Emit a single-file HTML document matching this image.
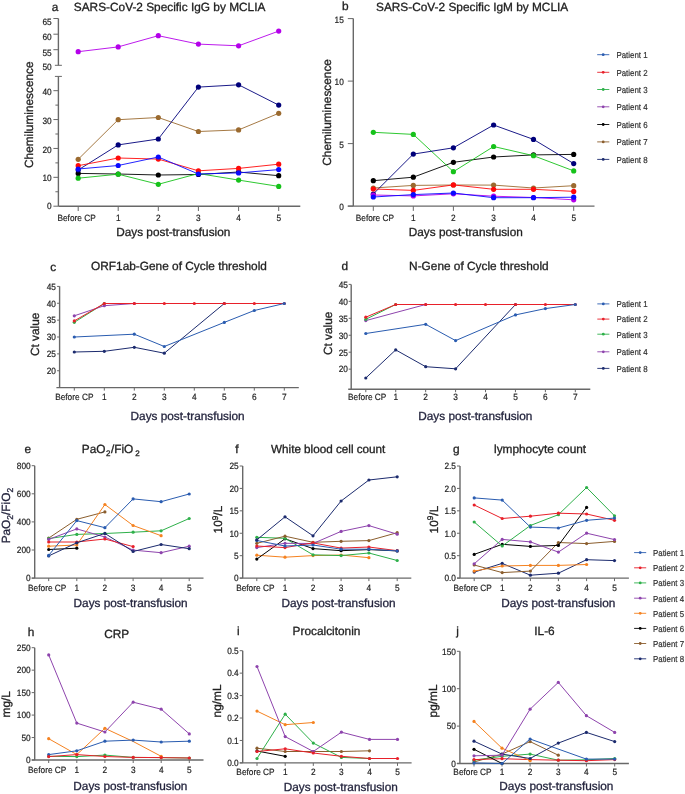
<!DOCTYPE html>
<html><head><meta charset="utf-8"><style>
html,body{margin:0;padding:0;background:#fff;width:685px;height:794px;overflow:hidden}
svg{display:block;will-change:transform;filter:blur(0.3px)}
text{font-family:"Liberation Sans",sans-serif;text-rendering:geometricPrecision}
</style></head><body>
<svg width="685" height="794" viewBox="0 0 685 794">
<rect width="685" height="794" fill="#fff"/>
<line x1="58.4" y1="18.5" x2="58.4" y2="65.3" stroke="#686868" stroke-width="1.4"/>
<line x1="53.4" y1="18.5" x2="58.4" y2="18.5" stroke="#686868" stroke-width="1"/>
<text x="0" y="0" font-size="8.3" text-anchor="end" fill="#222" stroke="#222" stroke-width="0.18" transform="translate(51.7 25.299999999999997) scale(1 1.1)">65</text>
<line x1="53.4" y1="34.2" x2="58.4" y2="34.2" stroke="#686868" stroke-width="1"/>
<text x="0" y="0" font-size="8.3" text-anchor="end" fill="#222" stroke="#222" stroke-width="0.18" transform="translate(51.7 40.199999999999996) scale(1 1.1)">60</text>
<line x1="53.4" y1="49.7" x2="58.4" y2="49.7" stroke="#686868" stroke-width="1"/>
<text x="0" y="0" font-size="8.3" text-anchor="end" fill="#222" stroke="#222" stroke-width="0.18" transform="translate(51.7 55.8) scale(1 1.1)">55</text>
<line x1="54.9" y1="65.3" x2="61.9" y2="65.3" stroke="#686868" stroke-width="1"/>
<text x="0" y="0" font-size="8.3" text-anchor="end" fill="#222" stroke="#222" stroke-width="0.18" transform="translate(51.7 70.2) scale(1 1.1)">50</text>
<line x1="58.4" y1="76.4" x2="58.4" y2="206.2" stroke="#686868" stroke-width="1.4"/>
<line x1="54.9" y1="76.4" x2="61.9" y2="76.4" stroke="#686868" stroke-width="1"/>
<line x1="53.4" y1="206.2" x2="58.4" y2="206.2" stroke="#686868" stroke-width="1"/>
<text x="0" y="0" font-size="8.3" text-anchor="end" fill="#222" stroke="#222" stroke-width="0.18" transform="translate(51.7 209.20000000000002) scale(1 1.1)">0</text>
<line x1="53.4" y1="177.32" x2="58.4" y2="177.32" stroke="#686868" stroke-width="1"/>
<text x="0" y="0" font-size="8.3" text-anchor="end" fill="#222" stroke="#222" stroke-width="0.18" transform="translate(51.7 181.1) scale(1 1.1)">10</text>
<line x1="53.4" y1="148.44" x2="58.4" y2="148.44" stroke="#686868" stroke-width="1"/>
<text x="0" y="0" font-size="8.3" text-anchor="end" fill="#222" stroke="#222" stroke-width="0.18" transform="translate(51.7 152.70000000000002) scale(1 1.1)">20</text>
<line x1="53.4" y1="119.55999999999999" x2="58.4" y2="119.55999999999999" stroke="#686868" stroke-width="1"/>
<text x="0" y="0" font-size="8.3" text-anchor="end" fill="#222" stroke="#222" stroke-width="0.18" transform="translate(51.7 124.2) scale(1 1.1)">30</text>
<line x1="53.4" y1="90.67999999999999" x2="58.4" y2="90.67999999999999" stroke="#686868" stroke-width="1"/>
<text x="0" y="0" font-size="8.3" text-anchor="end" fill="#222" stroke="#222" stroke-width="0.18" transform="translate(51.7 95.4) scale(1 1.1)">40</text>
<line x1="55.4" y1="191.76" x2="58.4" y2="191.76" stroke="#686868" stroke-width="1"/>
<line x1="55.4" y1="162.88" x2="58.4" y2="162.88" stroke="#686868" stroke-width="1"/>
<line x1="55.4" y1="134.0" x2="58.4" y2="134.0" stroke="#686868" stroke-width="1"/>
<line x1="55.4" y1="105.11999999999999" x2="58.4" y2="105.11999999999999" stroke="#686868" stroke-width="1"/>
<line x1="58.4" y1="206.2" x2="300.3" y2="206.2" stroke="#686868" stroke-width="1.4"/>
<line x1="78.2" y1="206.2" x2="78.2" y2="211.0" stroke="#686868" stroke-width="1"/>
<text x="0" y="0" font-size="8.3" text-anchor="middle" fill="#222" stroke="#222" stroke-width="0.18" transform="translate(76.60000000000001 220.9) scale(1 1.1)">Before CP</text>
<line x1="118.2" y1="206.2" x2="118.2" y2="211.0" stroke="#686868" stroke-width="1"/>
<text x="0" y="0" font-size="8.3" text-anchor="middle" fill="#222" stroke="#222" stroke-width="0.18" transform="translate(118.2 220.9) scale(1 1.1)">1</text>
<line x1="158.3" y1="206.2" x2="158.3" y2="211.0" stroke="#686868" stroke-width="1"/>
<text x="0" y="0" font-size="8.3" text-anchor="middle" fill="#222" stroke="#222" stroke-width="0.18" transform="translate(158.3 220.9) scale(1 1.1)">2</text>
<line x1="198.4" y1="206.2" x2="198.4" y2="211.0" stroke="#686868" stroke-width="1"/>
<text x="0" y="0" font-size="8.3" text-anchor="middle" fill="#222" stroke="#222" stroke-width="0.18" transform="translate(198.4 220.9) scale(1 1.1)">3</text>
<line x1="238.6" y1="206.2" x2="238.6" y2="211.0" stroke="#686868" stroke-width="1"/>
<text x="0" y="0" font-size="8.3" text-anchor="middle" fill="#222" stroke="#222" stroke-width="0.18" transform="translate(238.6 220.9) scale(1 1.1)">4</text>
<line x1="278.7" y1="206.2" x2="278.7" y2="211.0" stroke="#686868" stroke-width="1"/>
<text x="0" y="0" font-size="8.3" text-anchor="middle" fill="#222" stroke="#222" stroke-width="0.18" transform="translate(278.7 220.9) scale(1 1.1)">5</text>
<text x="55" y="10.5" font-size="11.85" text-anchor="middle" fill="#222" stroke="#222" stroke-width="0.3">a</text>
<text x="73.8" y="11.4" font-size="11.85" text-anchor="start" fill="#222" stroke="#222" stroke-width="0.3">SARS-CoV-2 Specific IgG by MCLIA</text>
<text x="0" y="0" font-size="11.85" text-anchor="middle" fill="#222" stroke="#222" stroke-width="0.3" transform="translate(33.4 114.7) rotate(-90) scale(1 1.0)">Chemiluminescence</text>
<text x="173.25" y="236.2" font-size="11.8" text-anchor="middle" fill="#222" stroke="#222" stroke-width="0.3">Days post-transfusion</text>
<polyline points="78.2,51.7 118.2,46.9 158.3,35.7 198.4,44.1 238.6,45.8 278.7,31.1" fill="none" stroke="#b400ea" stroke-width="0.9" stroke-linejoin="round"/>
<circle cx="78.2" cy="51.7" r="2.6" fill="#b400ea"/>
<circle cx="118.2" cy="46.9" r="2.6" fill="#b400ea"/>
<circle cx="158.3" cy="35.7" r="2.6" fill="#b400ea"/>
<circle cx="198.4" cy="44.1" r="2.6" fill="#b400ea"/>
<circle cx="238.6" cy="45.8" r="2.6" fill="#b400ea"/>
<circle cx="278.7" cy="31.1" r="2.6" fill="#b400ea"/>
<polyline points="78.2,173.4 118.2,174.0 158.3,175.0 198.4,174.5 238.6,172.0 278.7,175.7" fill="none" stroke="#000" stroke-width="0.9" stroke-linejoin="round"/>
<circle cx="78.2" cy="173.4" r="2.6" fill="#000"/>
<circle cx="118.2" cy="174.0" r="2.6" fill="#000"/>
<circle cx="158.3" cy="175.0" r="2.6" fill="#000"/>
<circle cx="198.4" cy="174.5" r="2.6" fill="#000"/>
<circle cx="238.6" cy="172.0" r="2.6" fill="#000"/>
<circle cx="278.7" cy="175.7" r="2.6" fill="#000"/>
<polyline points="78.2,178.2 118.2,174.2 158.3,184.3 198.4,173.5 238.6,180.1 278.7,186.4" fill="none" stroke="#16c21a" stroke-width="0.9" stroke-linejoin="round"/>
<circle cx="78.2" cy="178.2" r="2.6" fill="#16c21a"/>
<circle cx="118.2" cy="174.2" r="2.6" fill="#16c21a"/>
<circle cx="158.3" cy="184.3" r="2.6" fill="#16c21a"/>
<circle cx="198.4" cy="173.5" r="2.6" fill="#16c21a"/>
<circle cx="238.6" cy="180.1" r="2.6" fill="#16c21a"/>
<circle cx="278.7" cy="186.4" r="2.6" fill="#16c21a"/>
<polyline points="78.2,159.3 118.2,119.7 158.3,117.5 198.4,131.5 238.6,129.9 278.7,113.3" fill="none" stroke="#9b6a2f" stroke-width="0.9" stroke-linejoin="round"/>
<circle cx="78.2" cy="159.3" r="2.6" fill="#9b6a2f"/>
<circle cx="118.2" cy="119.7" r="2.6" fill="#9b6a2f"/>
<circle cx="158.3" cy="117.5" r="2.6" fill="#9b6a2f"/>
<circle cx="198.4" cy="131.5" r="2.6" fill="#9b6a2f"/>
<circle cx="238.6" cy="129.9" r="2.6" fill="#9b6a2f"/>
<circle cx="278.7" cy="113.3" r="2.6" fill="#9b6a2f"/>
<polyline points="78.2,170.0 118.2,144.9 158.3,139.0 198.4,87.1 238.6,84.8 278.7,105.1" fill="none" stroke="#00007a" stroke-width="0.9" stroke-linejoin="round"/>
<circle cx="78.2" cy="170.0" r="2.6" fill="#00007a"/>
<circle cx="118.2" cy="144.9" r="2.6" fill="#00007a"/>
<circle cx="158.3" cy="139.0" r="2.6" fill="#00007a"/>
<circle cx="198.4" cy="87.1" r="2.6" fill="#00007a"/>
<circle cx="238.6" cy="84.8" r="2.6" fill="#00007a"/>
<circle cx="278.7" cy="105.1" r="2.6" fill="#00007a"/>
<polyline points="78.2,165.7 118.2,158.0 158.3,159.1 198.4,170.8 238.6,168.4 278.7,164.2" fill="none" stroke="#ff0a0a" stroke-width="0.9" stroke-linejoin="round"/>
<circle cx="78.2" cy="165.7" r="2.6" fill="#ff0a0a"/>
<circle cx="118.2" cy="158.0" r="2.6" fill="#ff0a0a"/>
<circle cx="158.3" cy="159.1" r="2.6" fill="#ff0a0a"/>
<circle cx="198.4" cy="170.8" r="2.6" fill="#ff0a0a"/>
<circle cx="238.6" cy="168.4" r="2.6" fill="#ff0a0a"/>
<circle cx="278.7" cy="164.2" r="2.6" fill="#ff0a0a"/>
<polyline points="78.2,169.0 118.2,165.5 158.3,157.0 198.4,174.0 238.6,172.9 278.7,169.6" fill="none" stroke="#0a0aff" stroke-width="0.9" stroke-linejoin="round"/>
<circle cx="78.2" cy="169.0" r="2.6" fill="#0a0aff"/>
<circle cx="118.2" cy="165.5" r="2.6" fill="#0a0aff"/>
<circle cx="158.3" cy="157.0" r="2.6" fill="#0a0aff"/>
<circle cx="198.4" cy="174.0" r="2.6" fill="#0a0aff"/>
<circle cx="238.6" cy="172.9" r="2.6" fill="#0a0aff"/>
<circle cx="278.7" cy="169.6" r="2.6" fill="#0a0aff"/>
<line x1="353.3" y1="18.6" x2="353.3" y2="206.1" stroke="#686868" stroke-width="1.4"/>
<line x1="347.8" y1="206.1" x2="353.3" y2="206.1" stroke="#686868" stroke-width="1"/>
<text x="0" y="0" font-size="8.3" text-anchor="end" fill="#222" stroke="#222" stroke-width="0.18" transform="translate(343.8 210.1) scale(1 1.1)">0</text>
<line x1="347.8" y1="143.6" x2="353.3" y2="143.6" stroke="#686868" stroke-width="1"/>
<text x="0" y="0" font-size="8.3" text-anchor="end" fill="#222" stroke="#222" stroke-width="0.18" transform="translate(343.8 147.6) scale(1 1.1)">5</text>
<line x1="347.8" y1="81.1" x2="353.3" y2="81.1" stroke="#686868" stroke-width="1"/>
<text x="0" y="0" font-size="8.3" text-anchor="end" fill="#222" stroke="#222" stroke-width="0.18" transform="translate(343.8 85.1) scale(1 1.1)">10</text>
<line x1="347.8" y1="18.599999999999994" x2="353.3" y2="18.599999999999994" stroke="#686868" stroke-width="1"/>
<text x="0" y="0" font-size="8.3" text-anchor="end" fill="#222" stroke="#222" stroke-width="0.18" transform="translate(343.8 22.599999999999994) scale(1 1.1)">15</text>
<line x1="347.8" y1="206.1" x2="594.5" y2="206.1" stroke="#686868" stroke-width="1.4"/>
<line x1="373.3" y1="206.1" x2="373.3" y2="210.9" stroke="#686868" stroke-width="1"/>
<text x="0" y="0" font-size="8.3" text-anchor="middle" fill="#222" stroke="#222" stroke-width="0.18" transform="translate(374.90000000000003 220.9) scale(1 1.1)">Before CP</text>
<line x1="413.3" y1="206.1" x2="413.3" y2="210.9" stroke="#686868" stroke-width="1"/>
<text x="0" y="0" font-size="8.3" text-anchor="middle" fill="#222" stroke="#222" stroke-width="0.18" transform="translate(413.3 220.9) scale(1 1.1)">1</text>
<line x1="453.4" y1="206.1" x2="453.4" y2="210.9" stroke="#686868" stroke-width="1"/>
<text x="0" y="0" font-size="8.3" text-anchor="middle" fill="#222" stroke="#222" stroke-width="0.18" transform="translate(453.4 220.9) scale(1 1.1)">2</text>
<line x1="493.6" y1="206.1" x2="493.6" y2="210.9" stroke="#686868" stroke-width="1"/>
<text x="0" y="0" font-size="8.3" text-anchor="middle" fill="#222" stroke="#222" stroke-width="0.18" transform="translate(493.6 220.9) scale(1 1.1)">3</text>
<line x1="533.5" y1="206.1" x2="533.5" y2="210.9" stroke="#686868" stroke-width="1"/>
<text x="0" y="0" font-size="8.3" text-anchor="middle" fill="#222" stroke="#222" stroke-width="0.18" transform="translate(533.5 220.9) scale(1 1.1)">4</text>
<line x1="573.7" y1="206.1" x2="573.7" y2="210.9" stroke="#686868" stroke-width="1"/>
<text x="0" y="0" font-size="8.3" text-anchor="middle" fill="#222" stroke="#222" stroke-width="0.18" transform="translate(573.7 220.9) scale(1 1.1)">5</text>
<text x="345.3" y="9.5" font-size="11.85" text-anchor="middle" fill="#222" stroke="#222" stroke-width="0.3">b</text>
<text x="376.0" y="11.4" font-size="11.85" text-anchor="start" fill="#222" stroke="#222" stroke-width="0.3">SARS-CoV-2 Specific IgM by MCLIA</text>
<text x="0" y="0" font-size="11.85" text-anchor="middle" fill="#222" stroke="#222" stroke-width="0.3" transform="translate(330.8 112.4) rotate(-90) scale(1 1.0)">Chemiluminescence</text>
<text x="465.8" y="236.2" font-size="11.8" text-anchor="middle" fill="#222" stroke="#222" stroke-width="0.3">Days post-transfusion</text>
<polyline points="373.3,180.7 413.3,177.2 453.4,162.3 493.6,157.0 533.5,154.9 573.7,154.4" fill="none" stroke="#000" stroke-width="0.9" stroke-linejoin="round"/>
<circle cx="373.3" cy="180.7" r="2.6" fill="#000"/>
<circle cx="413.3" cy="177.2" r="2.6" fill="#000"/>
<circle cx="453.4" cy="162.3" r="2.6" fill="#000"/>
<circle cx="493.6" cy="157.0" r="2.6" fill="#000"/>
<circle cx="533.5" cy="154.9" r="2.6" fill="#000"/>
<circle cx="573.7" cy="154.4" r="2.6" fill="#000"/>
<polyline points="373.3,188.0 413.3,185.4 453.4,185.0 493.6,185.1 533.5,188.0 573.7,185.7" fill="none" stroke="#9b6a2f" stroke-width="0.9" stroke-linejoin="round"/>
<circle cx="373.3" cy="188.0" r="2.6" fill="#9b6a2f"/>
<circle cx="413.3" cy="185.4" r="2.6" fill="#9b6a2f"/>
<circle cx="453.4" cy="185.0" r="2.6" fill="#9b6a2f"/>
<circle cx="493.6" cy="185.1" r="2.6" fill="#9b6a2f"/>
<circle cx="533.5" cy="188.0" r="2.6" fill="#9b6a2f"/>
<circle cx="573.7" cy="185.7" r="2.6" fill="#9b6a2f"/>
<polyline points="373.3,132.3 413.3,134.4 453.4,171.7 493.6,146.5 533.5,155.7 573.7,170.9" fill="none" stroke="#16c21a" stroke-width="0.9" stroke-linejoin="round"/>
<circle cx="373.3" cy="132.3" r="2.6" fill="#16c21a"/>
<circle cx="413.3" cy="134.4" r="2.6" fill="#16c21a"/>
<circle cx="453.4" cy="171.7" r="2.6" fill="#16c21a"/>
<circle cx="493.6" cy="146.5" r="2.6" fill="#16c21a"/>
<circle cx="533.5" cy="155.7" r="2.6" fill="#16c21a"/>
<circle cx="573.7" cy="170.9" r="2.6" fill="#16c21a"/>
<polyline points="373.3,194.0 413.3,154.1 453.4,147.8 493.6,125.0 533.5,139.4 573.7,163.6" fill="none" stroke="#00007a" stroke-width="0.9" stroke-linejoin="round"/>
<circle cx="373.3" cy="194.0" r="2.6" fill="#00007a"/>
<circle cx="413.3" cy="154.1" r="2.6" fill="#00007a"/>
<circle cx="453.4" cy="147.8" r="2.6" fill="#00007a"/>
<circle cx="493.6" cy="125.0" r="2.6" fill="#00007a"/>
<circle cx="533.5" cy="139.4" r="2.6" fill="#00007a"/>
<circle cx="573.7" cy="163.6" r="2.6" fill="#00007a"/>
<polyline points="373.3,189.0 413.3,190.4 453.4,184.9 493.6,189.3 533.5,189.3 573.7,191.4" fill="none" stroke="#ff0a0a" stroke-width="0.9" stroke-linejoin="round"/>
<circle cx="373.3" cy="189.0" r="2.6" fill="#ff0a0a"/>
<circle cx="413.3" cy="190.4" r="2.6" fill="#ff0a0a"/>
<circle cx="453.4" cy="184.9" r="2.6" fill="#ff0a0a"/>
<circle cx="493.6" cy="189.3" r="2.6" fill="#ff0a0a"/>
<circle cx="533.5" cy="189.3" r="2.6" fill="#ff0a0a"/>
<circle cx="573.7" cy="191.4" r="2.6" fill="#ff0a0a"/>
<polyline points="373.3,195.0 413.3,195.9 453.4,193.8 493.6,196.2 533.5,197.5 573.7,199.8" fill="none" stroke="#b400ea" stroke-width="0.9" stroke-linejoin="round"/>
<circle cx="373.3" cy="195.0" r="2.6" fill="#b400ea"/>
<circle cx="413.3" cy="195.9" r="2.6" fill="#b400ea"/>
<circle cx="453.4" cy="193.8" r="2.6" fill="#b400ea"/>
<circle cx="493.6" cy="196.2" r="2.6" fill="#b400ea"/>
<circle cx="533.5" cy="197.5" r="2.6" fill="#b400ea"/>
<circle cx="573.7" cy="199.8" r="2.6" fill="#b400ea"/>
<polyline points="373.3,197.0 413.3,194.6 453.4,193.0 493.6,197.7 533.5,197.7 573.7,197.2" fill="none" stroke="#0a0aff" stroke-width="0.9" stroke-linejoin="round"/>
<circle cx="373.3" cy="197.0" r="2.6" fill="#0a0aff"/>
<circle cx="413.3" cy="194.6" r="2.6" fill="#0a0aff"/>
<circle cx="453.4" cy="193.0" r="2.6" fill="#0a0aff"/>
<circle cx="493.6" cy="197.7" r="2.6" fill="#0a0aff"/>
<circle cx="533.5" cy="197.7" r="2.6" fill="#0a0aff"/>
<circle cx="573.7" cy="197.2" r="2.6" fill="#0a0aff"/>
<line x1="597.2" y1="54.7" x2="609.3" y2="54.7" stroke="#2a5cb0" stroke-width="0.9"/>
<circle cx="603.2" cy="54.7" r="1.4" fill="#2a5cb0"/>
<text x="0" y="0" font-size="7.9" text-anchor="start" fill="#333" stroke="#333" stroke-width="0.18" transform="translate(616.4 58.0) scale(1 1.1)">Patient 1</text>
<line x1="597.2" y1="72.3" x2="609.3" y2="72.3" stroke="#e8202a" stroke-width="0.9"/>
<circle cx="603.2" cy="72.3" r="1.4" fill="#e8202a"/>
<text x="0" y="0" font-size="7.9" text-anchor="start" fill="#333" stroke="#333" stroke-width="0.18" transform="translate(616.4 75.60000000000001) scale(1 1.1)">Patient 2</text>
<line x1="597.2" y1="89.5" x2="609.3" y2="89.5" stroke="#2eb04a" stroke-width="0.9"/>
<circle cx="603.2" cy="89.5" r="1.4" fill="#2eb04a"/>
<text x="0" y="0" font-size="7.9" text-anchor="start" fill="#333" stroke="#333" stroke-width="0.18" transform="translate(616.4 92.80000000000001) scale(1 1.1)">Patient 3</text>
<line x1="597.2" y1="106.8" x2="609.3" y2="106.8" stroke="#8e44ad" stroke-width="0.9"/>
<circle cx="603.2" cy="106.8" r="1.4" fill="#8e44ad"/>
<text x="0" y="0" font-size="7.9" text-anchor="start" fill="#333" stroke="#333" stroke-width="0.18" transform="translate(616.4 110.10000000000001) scale(1 1.1)">Patient 4</text>
<line x1="597.2" y1="124.5" x2="609.3" y2="124.5" stroke="#000000" stroke-width="0.9"/>
<circle cx="603.2" cy="124.5" r="1.4" fill="#000000"/>
<text x="0" y="0" font-size="7.9" text-anchor="start" fill="#333" stroke="#333" stroke-width="0.18" transform="translate(616.4 127.80000000000001) scale(1 1.1)">Patient 6</text>
<line x1="597.2" y1="141.9" x2="609.3" y2="141.9" stroke="#8b5e2e" stroke-width="0.9"/>
<circle cx="603.2" cy="141.9" r="1.4" fill="#8b5e2e"/>
<text x="0" y="0" font-size="7.9" text-anchor="start" fill="#333" stroke="#333" stroke-width="0.18" transform="translate(616.4 145.20000000000002) scale(1 1.1)">Patient 7</text>
<line x1="597.2" y1="159.4" x2="609.3" y2="159.4" stroke="#1c2b6e" stroke-width="0.9"/>
<circle cx="603.2" cy="159.4" r="1.4" fill="#1c2b6e"/>
<text x="0" y="0" font-size="7.9" text-anchor="start" fill="#333" stroke="#333" stroke-width="0.18" transform="translate(616.4 162.70000000000002) scale(1 1.1)">Patient 8</text>
<line x1="59.6" y1="286.3" x2="59.6" y2="387.6" stroke="#686868" stroke-width="1.4"/>
<line x1="57.1" y1="286.41" x2="59.6" y2="286.41" stroke="#686868" stroke-width="1"/>
<text x="0" y="0" font-size="8.3" text-anchor="end" fill="#222" stroke="#222" stroke-width="0.18" transform="translate(55.9 289.71) scale(1 1.1)">45</text>
<line x1="57.1" y1="303.27500000000003" x2="59.6" y2="303.27500000000003" stroke="#686868" stroke-width="1"/>
<text x="0" y="0" font-size="8.3" text-anchor="end" fill="#222" stroke="#222" stroke-width="0.18" transform="translate(55.9 306.575) scale(1 1.1)">40</text>
<line x1="57.1" y1="320.14" x2="59.6" y2="320.14" stroke="#686868" stroke-width="1"/>
<text x="0" y="0" font-size="8.3" text-anchor="end" fill="#222" stroke="#222" stroke-width="0.18" transform="translate(55.9 323.43999999999994) scale(1 1.1)">35</text>
<line x1="57.1" y1="337.005" x2="59.6" y2="337.005" stroke="#686868" stroke-width="1"/>
<text x="0" y="0" font-size="8.3" text-anchor="end" fill="#222" stroke="#222" stroke-width="0.18" transform="translate(55.9 340.30499999999995) scale(1 1.1)">30</text>
<line x1="57.1" y1="353.87" x2="59.6" y2="353.87" stroke="#686868" stroke-width="1"/>
<text x="0" y="0" font-size="8.3" text-anchor="end" fill="#222" stroke="#222" stroke-width="0.18" transform="translate(55.9 357.16999999999996) scale(1 1.1)">25</text>
<line x1="57.1" y1="370.735" x2="59.6" y2="370.735" stroke="#686868" stroke-width="1"/>
<text x="0" y="0" font-size="8.3" text-anchor="end" fill="#222" stroke="#222" stroke-width="0.18" transform="translate(55.9 374.03499999999997) scale(1 1.1)">20</text>
<line x1="56.4" y1="387.6" x2="298.8" y2="387.6" stroke="#686868" stroke-width="1.4"/>
<line x1="74.3" y1="387.6" x2="74.3" y2="390.6" stroke="#686868" stroke-width="1"/>
<text x="0" y="0" font-size="8.3" text-anchor="middle" fill="#222" stroke="#222" stroke-width="0.18" transform="translate(74.3 399.5) scale(1 1.1)">Before CP</text>
<line x1="104.3" y1="387.6" x2="104.3" y2="390.6" stroke="#686868" stroke-width="1"/>
<text x="0" y="0" font-size="8.3" text-anchor="middle" fill="#222" stroke="#222" stroke-width="0.18" transform="translate(104.3 399.5) scale(1 1.1)">1</text>
<line x1="134.3" y1="387.6" x2="134.3" y2="390.6" stroke="#686868" stroke-width="1"/>
<text x="0" y="0" font-size="8.3" text-anchor="middle" fill="#222" stroke="#222" stroke-width="0.18" transform="translate(134.3 399.5) scale(1 1.1)">2</text>
<line x1="164.3" y1="387.6" x2="164.3" y2="390.6" stroke="#686868" stroke-width="1"/>
<text x="0" y="0" font-size="8.3" text-anchor="middle" fill="#222" stroke="#222" stroke-width="0.18" transform="translate(164.3 399.5) scale(1 1.1)">3</text>
<line x1="194.3" y1="387.6" x2="194.3" y2="390.6" stroke="#686868" stroke-width="1"/>
<text x="0" y="0" font-size="8.3" text-anchor="middle" fill="#222" stroke="#222" stroke-width="0.18" transform="translate(194.3 399.5) scale(1 1.1)">4</text>
<line x1="224.3" y1="387.6" x2="224.3" y2="390.6" stroke="#686868" stroke-width="1"/>
<text x="0" y="0" font-size="8.3" text-anchor="middle" fill="#222" stroke="#222" stroke-width="0.18" transform="translate(224.3 399.5) scale(1 1.1)">5</text>
<line x1="254.3" y1="387.6" x2="254.3" y2="390.6" stroke="#686868" stroke-width="1"/>
<text x="0" y="0" font-size="8.3" text-anchor="middle" fill="#222" stroke="#222" stroke-width="0.18" transform="translate(254.3 399.5) scale(1 1.1)">6</text>
<line x1="284.3" y1="387.6" x2="284.3" y2="390.6" stroke="#686868" stroke-width="1"/>
<text x="0" y="0" font-size="8.3" text-anchor="middle" fill="#222" stroke="#222" stroke-width="0.18" transform="translate(284.3 399.5) scale(1 1.1)">7</text>
<text x="53.3" y="271.2" font-size="11.85" text-anchor="middle" fill="#222" stroke="#222" stroke-width="0.3">c</text>
<text x="91.1" y="270.2" font-size="11.85" text-anchor="start" fill="#222" stroke="#222" stroke-width="0.3">ORF1ab-Gene of Cycle threshold</text>
<text x="0" y="0" font-size="11.85" text-anchor="middle" fill="#222" stroke="#222" stroke-width="0.3" transform="translate(39.1 334.3) rotate(-90) scale(1 1.0)">Ct value</text>
<text x="187.6" y="420.3" font-size="11.8" text-anchor="middle" fill="#24253e" stroke="#24253e" stroke-width="0.3">Days post-transfusion</text>
<polyline points="74.3,322.3 104.3,303.5" fill="none" stroke="#2eb04a" stroke-width="1" stroke-linejoin="round"/>
<circle cx="74.3" cy="322.3" r="1.6" fill="#2eb04a"/>
<circle cx="104.3" cy="303.5" r="1.6" fill="#2eb04a"/>
<polyline points="74.3,315.8 104.3,305.7 134.3,303.5" fill="none" stroke="#8e44ad" stroke-width="1" stroke-linejoin="round"/>
<circle cx="74.3" cy="315.8" r="1.6" fill="#8e44ad"/>
<circle cx="104.3" cy="305.7" r="1.6" fill="#8e44ad"/>
<circle cx="134.3" cy="303.5" r="1.6" fill="#8e44ad"/>
<polyline points="74.3,352.0 104.3,351.3 134.3,347.3 164.3,353.2 224.3,303.5" fill="none" stroke="#1c2b6e" stroke-width="1" stroke-linejoin="round"/>
<circle cx="74.3" cy="352.0" r="1.6" fill="#1c2b6e"/>
<circle cx="104.3" cy="351.3" r="1.6" fill="#1c2b6e"/>
<circle cx="134.3" cy="347.3" r="1.6" fill="#1c2b6e"/>
<circle cx="164.3" cy="353.2" r="1.6" fill="#1c2b6e"/>
<circle cx="224.3" cy="303.5" r="1.6" fill="#1c2b6e"/>
<polyline points="74.3,320.9 104.3,303.5 134.3,303.5 164.3,303.5 194.3,303.5 224.3,303.5 254.3,303.5 284.3,303.5" fill="none" stroke="#e8202a" stroke-width="1" stroke-linejoin="round"/>
<circle cx="74.3" cy="320.9" r="1.6" fill="#e8202a"/>
<circle cx="104.3" cy="303.5" r="1.6" fill="#e8202a"/>
<circle cx="134.3" cy="303.5" r="1.6" fill="#e8202a"/>
<circle cx="164.3" cy="303.5" r="1.6" fill="#e8202a"/>
<circle cx="194.3" cy="303.5" r="1.6" fill="#e8202a"/>
<circle cx="224.3" cy="303.5" r="1.6" fill="#e8202a"/>
<circle cx="254.3" cy="303.5" r="1.6" fill="#e8202a"/>
<circle cx="284.3" cy="303.5" r="1.6" fill="#e8202a"/>
<polyline points="74.3,337.0 134.3,334.2 164.3,346.5 224.3,322.4 254.3,310.5 284.3,303.5" fill="none" stroke="#2a5cb0" stroke-width="1" stroke-linejoin="round"/>
<circle cx="74.3" cy="337.0" r="1.6" fill="#2a5cb0"/>
<circle cx="134.3" cy="334.2" r="1.6" fill="#2a5cb0"/>
<circle cx="164.3" cy="346.5" r="1.6" fill="#2a5cb0"/>
<circle cx="224.3" cy="322.4" r="1.6" fill="#2a5cb0"/>
<circle cx="254.3" cy="310.5" r="1.6" fill="#2a5cb0"/>
<circle cx="284.3" cy="303.5" r="1.6" fill="#2a5cb0"/>
<line x1="351.2" y1="284.4" x2="351.2" y2="389.2" stroke="#686868" stroke-width="1.4"/>
<line x1="348.7" y1="284.4" x2="351.2" y2="284.4" stroke="#686868" stroke-width="1"/>
<text x="0" y="0" font-size="8.3" text-anchor="end" fill="#222" stroke="#222" stroke-width="0.18" transform="translate(347.9 287.69999999999993) scale(1 1.1)">45</text>
<line x1="348.7" y1="301.34999999999997" x2="351.2" y2="301.34999999999997" stroke="#686868" stroke-width="1"/>
<text x="0" y="0" font-size="8.3" text-anchor="end" fill="#222" stroke="#222" stroke-width="0.18" transform="translate(347.9 304.6499999999999) scale(1 1.1)">40</text>
<line x1="348.7" y1="318.29999999999995" x2="351.2" y2="318.29999999999995" stroke="#686868" stroke-width="1"/>
<text x="0" y="0" font-size="8.3" text-anchor="end" fill="#222" stroke="#222" stroke-width="0.18" transform="translate(347.9 321.5999999999999) scale(1 1.1)">35</text>
<line x1="348.7" y1="335.25" x2="351.2" y2="335.25" stroke="#686868" stroke-width="1"/>
<text x="0" y="0" font-size="8.3" text-anchor="end" fill="#222" stroke="#222" stroke-width="0.18" transform="translate(347.9 338.54999999999995) scale(1 1.1)">30</text>
<line x1="348.7" y1="352.2" x2="351.2" y2="352.2" stroke="#686868" stroke-width="1"/>
<text x="0" y="0" font-size="8.3" text-anchor="end" fill="#222" stroke="#222" stroke-width="0.18" transform="translate(347.9 355.49999999999994) scale(1 1.1)">25</text>
<line x1="348.7" y1="369.15" x2="351.2" y2="369.15" stroke="#686868" stroke-width="1"/>
<text x="0" y="0" font-size="8.3" text-anchor="end" fill="#222" stroke="#222" stroke-width="0.18" transform="translate(347.9 372.44999999999993) scale(1 1.1)">20</text>
<line x1="348.2" y1="389.2" x2="590.3" y2="389.2" stroke="#686868" stroke-width="1.4"/>
<line x1="365.8" y1="389.2" x2="365.8" y2="392.2" stroke="#686868" stroke-width="1"/>
<text x="0" y="0" font-size="8.3" text-anchor="middle" fill="#222" stroke="#222" stroke-width="0.18" transform="translate(367.2 399.9) scale(1 1.1)">Before CP</text>
<line x1="395.73" y1="389.2" x2="395.73" y2="392.2" stroke="#686868" stroke-width="1"/>
<text x="0" y="0" font-size="8.3" text-anchor="middle" fill="#222" stroke="#222" stroke-width="0.18" transform="translate(395.73 399.9) scale(1 1.1)">1</text>
<line x1="425.66" y1="389.2" x2="425.66" y2="392.2" stroke="#686868" stroke-width="1"/>
<text x="0" y="0" font-size="8.3" text-anchor="middle" fill="#222" stroke="#222" stroke-width="0.18" transform="translate(425.66 399.9) scale(1 1.1)">2</text>
<line x1="455.59000000000003" y1="389.2" x2="455.59000000000003" y2="392.2" stroke="#686868" stroke-width="1"/>
<text x="0" y="0" font-size="8.3" text-anchor="middle" fill="#222" stroke="#222" stroke-width="0.18" transform="translate(455.59000000000003 399.9) scale(1 1.1)">3</text>
<line x1="485.52" y1="389.2" x2="485.52" y2="392.2" stroke="#686868" stroke-width="1"/>
<text x="0" y="0" font-size="8.3" text-anchor="middle" fill="#222" stroke="#222" stroke-width="0.18" transform="translate(485.52 399.9) scale(1 1.1)">4</text>
<line x1="515.45" y1="389.2" x2="515.45" y2="392.2" stroke="#686868" stroke-width="1"/>
<text x="0" y="0" font-size="8.3" text-anchor="middle" fill="#222" stroke="#222" stroke-width="0.18" transform="translate(515.45 399.9) scale(1 1.1)">5</text>
<line x1="545.38" y1="389.2" x2="545.38" y2="392.2" stroke="#686868" stroke-width="1"/>
<text x="0" y="0" font-size="8.3" text-anchor="middle" fill="#222" stroke="#222" stroke-width="0.18" transform="translate(545.38 399.9) scale(1 1.1)">6</text>
<line x1="575.31" y1="389.2" x2="575.31" y2="392.2" stroke="#686868" stroke-width="1"/>
<text x="0" y="0" font-size="8.3" text-anchor="middle" fill="#222" stroke="#222" stroke-width="0.18" transform="translate(575.31 399.9) scale(1 1.1)">7</text>
<text x="344.7" y="270.3" font-size="11.85" text-anchor="middle" fill="#222" stroke="#222" stroke-width="0.3">d</text>
<text x="409.1" y="269.8" font-size="11.85" text-anchor="start" fill="#222" stroke="#222" stroke-width="0.3">N-Gene of Cycle threshold</text>
<text x="0" y="0" font-size="11.85" text-anchor="middle" fill="#222" stroke="#222" stroke-width="0.3" transform="translate(331.7 333.3) rotate(-90) scale(1 1.0)">Ct value</text>
<text x="475.3" y="420.2" font-size="11.8" text-anchor="middle" fill="#24253e" stroke="#24253e" stroke-width="0.3">Days post-transfusion</text>
<polyline points="365.8,320.6 425.7,304.5" fill="none" stroke="#8e44ad" stroke-width="1" stroke-linejoin="round"/>
<circle cx="365.8" cy="320.6" r="1.6" fill="#8e44ad"/>
<circle cx="425.7" cy="304.5" r="1.6" fill="#8e44ad"/>
<polyline points="365.8,319.3 395.7,304.5" fill="none" stroke="#2eb04a" stroke-width="1" stroke-linejoin="round"/>
<circle cx="365.8" cy="319.3" r="1.6" fill="#2eb04a"/>
<circle cx="395.7" cy="304.5" r="1.6" fill="#2eb04a"/>
<polyline points="365.8,378.0 395.7,349.9 425.7,366.7 455.6,368.8 515.5,304.5" fill="none" stroke="#1c2b6e" stroke-width="1" stroke-linejoin="round"/>
<circle cx="365.8" cy="378.0" r="1.6" fill="#1c2b6e"/>
<circle cx="395.7" cy="349.9" r="1.6" fill="#1c2b6e"/>
<circle cx="425.7" cy="366.7" r="1.6" fill="#1c2b6e"/>
<circle cx="455.6" cy="368.8" r="1.6" fill="#1c2b6e"/>
<circle cx="515.5" cy="304.5" r="1.6" fill="#1c2b6e"/>
<polyline points="365.8,317.2 395.7,304.5 425.7,304.5 455.6,304.5 485.5,304.5 515.5,304.5 545.4,304.5 575.3,304.5" fill="none" stroke="#e8202a" stroke-width="1" stroke-linejoin="round"/>
<circle cx="365.8" cy="317.2" r="1.6" fill="#e8202a"/>
<circle cx="395.7" cy="304.5" r="1.6" fill="#e8202a"/>
<circle cx="425.7" cy="304.5" r="1.6" fill="#e8202a"/>
<circle cx="455.6" cy="304.5" r="1.6" fill="#e8202a"/>
<circle cx="485.5" cy="304.5" r="1.6" fill="#e8202a"/>
<circle cx="515.5" cy="304.5" r="1.6" fill="#e8202a"/>
<circle cx="545.4" cy="304.5" r="1.6" fill="#e8202a"/>
<circle cx="575.3" cy="304.5" r="1.6" fill="#e8202a"/>
<polyline points="365.8,333.5 425.7,324.3 455.6,340.6 515.5,314.9 545.4,308.6 575.3,304.5" fill="none" stroke="#2a5cb0" stroke-width="1" stroke-linejoin="round"/>
<circle cx="365.8" cy="333.5" r="1.6" fill="#2a5cb0"/>
<circle cx="425.7" cy="324.3" r="1.6" fill="#2a5cb0"/>
<circle cx="455.6" cy="340.6" r="1.6" fill="#2a5cb0"/>
<circle cx="515.5" cy="314.9" r="1.6" fill="#2a5cb0"/>
<circle cx="545.4" cy="308.6" r="1.6" fill="#2a5cb0"/>
<circle cx="575.3" cy="304.5" r="1.6" fill="#2a5cb0"/>
<line x1="597.3" y1="303.9" x2="609.4" y2="303.9" stroke="#2a5cb0" stroke-width="0.9"/>
<circle cx="603.3" cy="303.9" r="1.4" fill="#2a5cb0"/>
<text x="0" y="0" font-size="7.9" text-anchor="start" fill="#333" stroke="#333" stroke-width="0.18" transform="translate(616.5 307.19999999999993) scale(1 1.1)">Patient 1</text>
<line x1="597.3" y1="319.1" x2="609.4" y2="319.1" stroke="#e8202a" stroke-width="0.9"/>
<circle cx="603.3" cy="319.1" r="1.4" fill="#e8202a"/>
<text x="0" y="0" font-size="7.9" text-anchor="start" fill="#333" stroke="#333" stroke-width="0.18" transform="translate(616.5 322.4) scale(1 1.1)">Patient 2</text>
<line x1="597.3" y1="334.2" x2="609.4" y2="334.2" stroke="#2eb04a" stroke-width="0.9"/>
<circle cx="603.3" cy="334.2" r="1.4" fill="#2eb04a"/>
<text x="0" y="0" font-size="7.9" text-anchor="start" fill="#333" stroke="#333" stroke-width="0.18" transform="translate(616.5 337.49999999999994) scale(1 1.1)">Patient 3</text>
<line x1="597.3" y1="351.8" x2="609.4" y2="351.8" stroke="#8e44ad" stroke-width="0.9"/>
<circle cx="603.3" cy="351.8" r="1.4" fill="#8e44ad"/>
<text x="0" y="0" font-size="7.9" text-anchor="start" fill="#333" stroke="#333" stroke-width="0.18" transform="translate(616.5 355.09999999999997) scale(1 1.1)">Patient 4</text>
<line x1="597.3" y1="368.4" x2="609.4" y2="368.4" stroke="#1c2b6e" stroke-width="0.9"/>
<circle cx="603.3" cy="368.4" r="1.4" fill="#1c2b6e"/>
<text x="0" y="0" font-size="7.9" text-anchor="start" fill="#333" stroke="#333" stroke-width="0.18" transform="translate(616.5 371.69999999999993) scale(1 1.1)">Patient 8</text>
<line x1="34.7" y1="465.7" x2="34.7" y2="578.1" stroke="#686868" stroke-width="1.4"/>
<line x1="31.700000000000003" y1="465.70000000000005" x2="34.7" y2="465.70000000000005" stroke="#686868" stroke-width="1"/>
<text x="0" y="0" font-size="8.3" text-anchor="end" fill="#222" stroke="#222" stroke-width="0.18" transform="translate(30.700000000000003 469.0) scale(1 1.1)">800</text>
<line x1="31.700000000000003" y1="493.8" x2="34.7" y2="493.8" stroke="#686868" stroke-width="1"/>
<text x="0" y="0" font-size="8.3" text-anchor="end" fill="#222" stroke="#222" stroke-width="0.18" transform="translate(30.700000000000003 497.09999999999997) scale(1 1.1)">600</text>
<line x1="31.700000000000003" y1="521.9" x2="34.7" y2="521.9" stroke="#686868" stroke-width="1"/>
<text x="0" y="0" font-size="8.3" text-anchor="end" fill="#222" stroke="#222" stroke-width="0.18" transform="translate(30.700000000000003 525.1999999999999) scale(1 1.1)">400</text>
<line x1="31.700000000000003" y1="550.0" x2="34.7" y2="550.0" stroke="#686868" stroke-width="1"/>
<text x="0" y="0" font-size="8.3" text-anchor="end" fill="#222" stroke="#222" stroke-width="0.18" transform="translate(30.700000000000003 553.3) scale(1 1.1)">200</text>
<line x1="31.700000000000003" y1="578.1" x2="34.7" y2="578.1" stroke="#686868" stroke-width="1"/>
<text x="0" y="0" font-size="8.3" text-anchor="end" fill="#222" stroke="#222" stroke-width="0.18" transform="translate(30.700000000000003 581.4) scale(1 1.1)">0</text>
<line x1="31.700000000000003" y1="578.1" x2="203.5" y2="578.1" stroke="#686868" stroke-width="1.4"/>
<line x1="48.7" y1="578.1" x2="48.7" y2="581.1" stroke="#686868" stroke-width="1"/>
<text x="0" y="0" font-size="8.3" text-anchor="middle" fill="#222" stroke="#222" stroke-width="0.18" transform="translate(47.2 590.9) scale(1 1.1)">Before CP</text>
<line x1="76.8" y1="578.1" x2="76.8" y2="581.1" stroke="#686868" stroke-width="1"/>
<text x="0" y="0" font-size="8.3" text-anchor="middle" fill="#222" stroke="#222" stroke-width="0.18" transform="translate(76.8 590.9) scale(1 1.1)">1</text>
<line x1="104.9" y1="578.1" x2="104.9" y2="581.1" stroke="#686868" stroke-width="1"/>
<text x="0" y="0" font-size="8.3" text-anchor="middle" fill="#222" stroke="#222" stroke-width="0.18" transform="translate(104.9 590.9) scale(1 1.1)">2</text>
<line x1="133.1" y1="578.1" x2="133.1" y2="581.1" stroke="#686868" stroke-width="1"/>
<text x="0" y="0" font-size="8.3" text-anchor="middle" fill="#222" stroke="#222" stroke-width="0.18" transform="translate(133.1 590.9) scale(1 1.1)">3</text>
<line x1="161.1" y1="578.1" x2="161.1" y2="581.1" stroke="#686868" stroke-width="1"/>
<text x="0" y="0" font-size="8.3" text-anchor="middle" fill="#222" stroke="#222" stroke-width="0.18" transform="translate(161.1 590.9) scale(1 1.1)">4</text>
<line x1="189.2" y1="578.1" x2="189.2" y2="581.1" stroke="#686868" stroke-width="1"/>
<text x="0" y="0" font-size="8.3" text-anchor="middle" fill="#222" stroke="#222" stroke-width="0.18" transform="translate(189.2 590.9) scale(1 1.1)">5</text>
<text x="27.7" y="453" font-size="11.85" text-anchor="middle" fill="#222" stroke="#222" stroke-width="0.3">e</text>
<text x="81.8" y="453.2" font-size="11.85" text-anchor="start" fill="#222" stroke="#222" stroke-width="0.3">PaO<tspan font-size="8" dx="0.6" dy="2.5">2</tspan><tspan dx="0.4" dy="-2.5">/FiO</tspan><tspan font-size="8" dy="2.5" dx="2">2</tspan></text>
<text x="0" y="0" font-size="11.85" text-anchor="middle" fill="#24253e" stroke="#24253e" stroke-width="0.3" transform="translate(10 515.6) rotate(-90) scale(1 1.0)">PaO<tspan font-size="8.5" dy="2.8">2</tspan><tspan dy="-2.8">/FiO</tspan><tspan font-size="8.5" dy="2.8">2</tspan></text>
<text x="130.6" y="606.6" font-size="11.8" text-anchor="middle" fill="#24253e" stroke="#24253e" stroke-width="0.3">Days post-transfusion</text>
<polyline points="48.7,538.1 76.8,519.3 104.9,511.9" fill="none" stroke="#8b5e2e" stroke-width="1" stroke-linejoin="round"/>
<circle cx="48.7" cy="538.1" r="1.6" fill="#8b5e2e"/>
<circle cx="76.8" cy="519.3" r="1.6" fill="#8b5e2e"/>
<circle cx="104.9" cy="511.9" r="1.6" fill="#8b5e2e"/>
<polyline points="48.7,538.6 76.8,534.4 104.9,533.5 133.1,532.2 161.1,530.8 189.2,518.5" fill="none" stroke="#2eb04a" stroke-width="1" stroke-linejoin="round"/>
<circle cx="48.7" cy="538.6" r="1.6" fill="#2eb04a"/>
<circle cx="76.8" cy="534.4" r="1.6" fill="#2eb04a"/>
<circle cx="104.9" cy="533.5" r="1.6" fill="#2eb04a"/>
<circle cx="133.1" cy="532.2" r="1.6" fill="#2eb04a"/>
<circle cx="161.1" cy="530.8" r="1.6" fill="#2eb04a"/>
<circle cx="189.2" cy="518.5" r="1.6" fill="#2eb04a"/>
<polyline points="48.7,539.4 76.8,528.9 104.9,537.0 133.1,550.1 161.1,552.7 189.2,546.2" fill="none" stroke="#8e44ad" stroke-width="1" stroke-linejoin="round"/>
<circle cx="48.7" cy="539.4" r="1.6" fill="#8e44ad"/>
<circle cx="76.8" cy="528.9" r="1.6" fill="#8e44ad"/>
<circle cx="104.9" cy="537.0" r="1.6" fill="#8e44ad"/>
<circle cx="133.1" cy="550.1" r="1.6" fill="#8e44ad"/>
<circle cx="161.1" cy="552.7" r="1.6" fill="#8e44ad"/>
<circle cx="189.2" cy="546.2" r="1.6" fill="#8e44ad"/>
<polyline points="48.7,542.0 76.8,542.0 104.9,539.0 133.1,546.6" fill="none" stroke="#e8202a" stroke-width="1" stroke-linejoin="round"/>
<circle cx="48.7" cy="542.0" r="1.6" fill="#e8202a"/>
<circle cx="76.8" cy="542.0" r="1.6" fill="#e8202a"/>
<circle cx="104.9" cy="539.0" r="1.6" fill="#e8202a"/>
<circle cx="133.1" cy="546.6" r="1.6" fill="#e8202a"/>
<polyline points="48.7,546.2 76.8,545.0 104.9,504.5 133.1,525.5 161.1,535.7" fill="none" stroke="#f58220" stroke-width="1" stroke-linejoin="round"/>
<circle cx="48.7" cy="546.2" r="1.6" fill="#f58220"/>
<circle cx="76.8" cy="545.0" r="1.6" fill="#f58220"/>
<circle cx="104.9" cy="504.5" r="1.6" fill="#f58220"/>
<circle cx="133.1" cy="525.5" r="1.6" fill="#f58220"/>
<circle cx="161.1" cy="535.7" r="1.6" fill="#f58220"/>
<polyline points="48.7,549.5 76.8,548.2" fill="none" stroke="#000000" stroke-width="1" stroke-linejoin="round"/>
<circle cx="48.7" cy="549.5" r="1.6" fill="#000000"/>
<circle cx="76.8" cy="548.2" r="1.6" fill="#000000"/>
<polyline points="48.7,555.9 76.8,542.8 104.9,533.4 133.1,551.5 161.1,544.5 189.2,548.7" fill="none" stroke="#1c2b6e" stroke-width="1" stroke-linejoin="round"/>
<circle cx="48.7" cy="555.9" r="1.6" fill="#1c2b6e"/>
<circle cx="76.8" cy="542.8" r="1.6" fill="#1c2b6e"/>
<circle cx="104.9" cy="533.4" r="1.6" fill="#1c2b6e"/>
<circle cx="133.1" cy="551.5" r="1.6" fill="#1c2b6e"/>
<circle cx="161.1" cy="544.5" r="1.6" fill="#1c2b6e"/>
<circle cx="189.2" cy="548.7" r="1.6" fill="#1c2b6e"/>
<polyline points="48.7,555.4 76.8,520.6 104.9,527.7 133.1,498.9 161.1,501.7 189.2,494.0" fill="none" stroke="#2a5cb0" stroke-width="1" stroke-linejoin="round"/>
<circle cx="48.7" cy="555.4" r="1.6" fill="#2a5cb0"/>
<circle cx="76.8" cy="520.6" r="1.6" fill="#2a5cb0"/>
<circle cx="104.9" cy="527.7" r="1.6" fill="#2a5cb0"/>
<circle cx="133.1" cy="498.9" r="1.6" fill="#2a5cb0"/>
<circle cx="161.1" cy="501.7" r="1.6" fill="#2a5cb0"/>
<circle cx="189.2" cy="494.0" r="1.6" fill="#2a5cb0"/>
<line x1="242.7" y1="466" x2="242.7" y2="578.1" stroke="#686868" stroke-width="1.4"/>
<line x1="239.7" y1="466.0" x2="242.7" y2="466.0" stroke="#686868" stroke-width="1"/>
<text x="0" y="0" font-size="8.3" text-anchor="end" fill="#222" stroke="#222" stroke-width="0.18" transform="translate(238.7 469.29999999999995) scale(1 1.1)">25</text>
<line x1="239.7" y1="488.42" x2="242.7" y2="488.42" stroke="#686868" stroke-width="1"/>
<text x="0" y="0" font-size="8.3" text-anchor="end" fill="#222" stroke="#222" stroke-width="0.18" transform="translate(238.7 491.71999999999997) scale(1 1.1)">20</text>
<line x1="239.7" y1="510.84000000000003" x2="242.7" y2="510.84000000000003" stroke="#686868" stroke-width="1"/>
<text x="0" y="0" font-size="8.3" text-anchor="end" fill="#222" stroke="#222" stroke-width="0.18" transform="translate(238.7 514.14) scale(1 1.1)">15</text>
<line x1="239.7" y1="533.26" x2="242.7" y2="533.26" stroke="#686868" stroke-width="1"/>
<text x="0" y="0" font-size="8.3" text-anchor="end" fill="#222" stroke="#222" stroke-width="0.18" transform="translate(238.7 536.56) scale(1 1.1)">10</text>
<line x1="239.7" y1="555.6800000000001" x2="242.7" y2="555.6800000000001" stroke="#686868" stroke-width="1"/>
<text x="0" y="0" font-size="8.3" text-anchor="end" fill="#222" stroke="#222" stroke-width="0.18" transform="translate(238.7 558.98) scale(1 1.1)">5</text>
<line x1="239.7" y1="578.1" x2="242.7" y2="578.1" stroke="#686868" stroke-width="1"/>
<text x="0" y="0" font-size="8.3" text-anchor="end" fill="#222" stroke="#222" stroke-width="0.18" transform="translate(238.7 581.4) scale(1 1.1)">0</text>
<line x1="239.7" y1="578.1" x2="411.3" y2="578.1" stroke="#686868" stroke-width="1.4"/>
<line x1="256.8" y1="578.1" x2="256.8" y2="581.1" stroke="#686868" stroke-width="1"/>
<text x="0" y="0" font-size="8.3" text-anchor="middle" fill="#222" stroke="#222" stroke-width="0.18" transform="translate(255.3 590.9) scale(1 1.1)">Before CP</text>
<line x1="285" y1="578.1" x2="285" y2="581.1" stroke="#686868" stroke-width="1"/>
<text x="0" y="0" font-size="8.3" text-anchor="middle" fill="#222" stroke="#222" stroke-width="0.18" transform="translate(285 590.9) scale(1 1.1)">1</text>
<line x1="313" y1="578.1" x2="313" y2="581.1" stroke="#686868" stroke-width="1"/>
<text x="0" y="0" font-size="8.3" text-anchor="middle" fill="#222" stroke="#222" stroke-width="0.18" transform="translate(313 590.9) scale(1 1.1)">2</text>
<line x1="341.1" y1="578.1" x2="341.1" y2="581.1" stroke="#686868" stroke-width="1"/>
<text x="0" y="0" font-size="8.3" text-anchor="middle" fill="#222" stroke="#222" stroke-width="0.18" transform="translate(341.1 590.9) scale(1 1.1)">3</text>
<line x1="368.9" y1="578.1" x2="368.9" y2="581.1" stroke="#686868" stroke-width="1"/>
<text x="0" y="0" font-size="8.3" text-anchor="middle" fill="#222" stroke="#222" stroke-width="0.18" transform="translate(368.9 590.9) scale(1 1.1)">4</text>
<line x1="397.2" y1="578.1" x2="397.2" y2="581.1" stroke="#686868" stroke-width="1"/>
<text x="0" y="0" font-size="8.3" text-anchor="middle" fill="#222" stroke="#222" stroke-width="0.18" transform="translate(397.2 590.9) scale(1 1.1)">5</text>
<text x="236.8" y="453" font-size="11.85" text-anchor="middle" fill="#222" stroke="#222" stroke-width="0.3">f</text>
<text x="271.0" y="453.2" font-size="11.7" text-anchor="start" fill="#222" stroke="#222" stroke-width="0.3">White blood cell count</text>
<text x="0" y="0" font-size="11.85" text-anchor="middle" fill="#222" stroke="#222" stroke-width="0.3" transform="translate(222.2 519.6) rotate(-90) scale(1 1.0)">10<tspan font-size="8.3" dy="-4.3">9</tspan><tspan dy="4.3">/L</tspan></text>
<text x="338.5" y="606.6" font-size="11.8" text-anchor="middle" fill="#24253e" stroke="#24253e" stroke-width="0.3">Days post-transfusion</text>
<polyline points="256.8,555.2 285.0,557.2 313.0,555.6 341.1,555.0 368.9,557.7" fill="none" stroke="#f58220" stroke-width="1" stroke-linejoin="round"/>
<circle cx="256.8" cy="555.2" r="1.6" fill="#f58220"/>
<circle cx="285.0" cy="557.2" r="1.6" fill="#f58220"/>
<circle cx="313.0" cy="555.6" r="1.6" fill="#f58220"/>
<circle cx="341.1" cy="555.0" r="1.6" fill="#f58220"/>
<circle cx="368.9" cy="557.7" r="1.6" fill="#f58220"/>
<polyline points="256.8,559.1 285.0,538.8 313.0,548.6 341.1,550.7 368.9,549.6 397.2,550.9" fill="none" stroke="#000000" stroke-width="1" stroke-linejoin="round"/>
<circle cx="256.8" cy="559.1" r="1.6" fill="#000000"/>
<circle cx="285.0" cy="538.8" r="1.6" fill="#000000"/>
<circle cx="313.0" cy="548.6" r="1.6" fill="#000000"/>
<circle cx="341.1" cy="550.7" r="1.6" fill="#000000"/>
<circle cx="368.9" cy="549.6" r="1.6" fill="#000000"/>
<circle cx="397.2" cy="550.9" r="1.6" fill="#000000"/>
<polyline points="256.8,537.3 285.0,538.3 313.0,554.8 341.1,555.6 368.9,553.0 397.2,560.5" fill="none" stroke="#2eb04a" stroke-width="1" stroke-linejoin="round"/>
<circle cx="256.8" cy="537.3" r="1.6" fill="#2eb04a"/>
<circle cx="285.0" cy="538.3" r="1.6" fill="#2eb04a"/>
<circle cx="313.0" cy="554.8" r="1.6" fill="#2eb04a"/>
<circle cx="341.1" cy="555.6" r="1.6" fill="#2eb04a"/>
<circle cx="368.9" cy="553.0" r="1.6" fill="#2eb04a"/>
<circle cx="397.2" cy="560.5" r="1.6" fill="#2eb04a"/>
<polyline points="256.8,543.3 285.0,536.2 313.0,542.3 341.1,541.3 368.9,540.6 397.2,532.7" fill="none" stroke="#8b5e2e" stroke-width="1" stroke-linejoin="round"/>
<circle cx="256.8" cy="543.3" r="1.6" fill="#8b5e2e"/>
<circle cx="285.0" cy="536.2" r="1.6" fill="#8b5e2e"/>
<circle cx="313.0" cy="542.3" r="1.6" fill="#8b5e2e"/>
<circle cx="341.1" cy="541.3" r="1.6" fill="#8b5e2e"/>
<circle cx="368.9" cy="540.6" r="1.6" fill="#8b5e2e"/>
<circle cx="397.2" cy="532.7" r="1.6" fill="#8b5e2e"/>
<polyline points="256.8,547.6 285.0,543.3 313.0,543.5 341.1,531.4 368.9,525.6 397.2,534.2" fill="none" stroke="#8e44ad" stroke-width="1" stroke-linejoin="round"/>
<circle cx="256.8" cy="547.6" r="1.6" fill="#8e44ad"/>
<circle cx="285.0" cy="543.3" r="1.6" fill="#8e44ad"/>
<circle cx="313.0" cy="543.5" r="1.6" fill="#8e44ad"/>
<circle cx="341.1" cy="531.4" r="1.6" fill="#8e44ad"/>
<circle cx="368.9" cy="525.6" r="1.6" fill="#8e44ad"/>
<circle cx="397.2" cy="534.2" r="1.6" fill="#8e44ad"/>
<polyline points="256.8,546.0 285.0,547.6 313.0,542.9 341.1,548.1 368.9,547.0 397.2,550.7" fill="none" stroke="#e8202a" stroke-width="1" stroke-linejoin="round"/>
<circle cx="256.8" cy="546.0" r="1.6" fill="#e8202a"/>
<circle cx="285.0" cy="547.6" r="1.6" fill="#e8202a"/>
<circle cx="313.0" cy="542.9" r="1.6" fill="#e8202a"/>
<circle cx="341.1" cy="548.1" r="1.6" fill="#e8202a"/>
<circle cx="368.9" cy="547.0" r="1.6" fill="#e8202a"/>
<circle cx="397.2" cy="550.7" r="1.6" fill="#e8202a"/>
<polyline points="256.8,540.5 285.0,546.0 313.0,545.0 341.1,549.2 368.9,549.2 397.2,550.9" fill="none" stroke="#2a5cb0" stroke-width="1" stroke-linejoin="round"/>
<circle cx="256.8" cy="540.5" r="1.6" fill="#2a5cb0"/>
<circle cx="285.0" cy="546.0" r="1.6" fill="#2a5cb0"/>
<circle cx="313.0" cy="545.0" r="1.6" fill="#2a5cb0"/>
<circle cx="341.1" cy="549.2" r="1.6" fill="#2a5cb0"/>
<circle cx="368.9" cy="549.2" r="1.6" fill="#2a5cb0"/>
<circle cx="397.2" cy="550.9" r="1.6" fill="#2a5cb0"/>
<polyline points="256.8,539.9 285.0,516.8 313.0,535.8 341.1,501.0 368.9,480.0 397.2,476.8" fill="none" stroke="#1c2b6e" stroke-width="1" stroke-linejoin="round"/>
<circle cx="256.8" cy="539.9" r="1.6" fill="#1c2b6e"/>
<circle cx="285.0" cy="516.8" r="1.6" fill="#1c2b6e"/>
<circle cx="313.0" cy="535.8" r="1.6" fill="#1c2b6e"/>
<circle cx="341.1" cy="501.0" r="1.6" fill="#1c2b6e"/>
<circle cx="368.9" cy="480.0" r="1.6" fill="#1c2b6e"/>
<circle cx="397.2" cy="476.8" r="1.6" fill="#1c2b6e"/>
<line x1="460.0" y1="466" x2="460.0" y2="578.1" stroke="#686868" stroke-width="1.4"/>
<line x1="457.0" y1="466.0" x2="460.0" y2="466.0" stroke="#686868" stroke-width="1"/>
<text x="0" y="0" font-size="8.3" text-anchor="end" fill="#222" stroke="#222" stroke-width="0.18" transform="translate(456.0 469.29999999999995) scale(1 1.1)">2.5</text>
<line x1="457.0" y1="488.42" x2="460.0" y2="488.42" stroke="#686868" stroke-width="1"/>
<text x="0" y="0" font-size="8.3" text-anchor="end" fill="#222" stroke="#222" stroke-width="0.18" transform="translate(456.0 491.71999999999997) scale(1 1.1)">2.0</text>
<line x1="457.0" y1="510.84000000000003" x2="460.0" y2="510.84000000000003" stroke="#686868" stroke-width="1"/>
<text x="0" y="0" font-size="8.3" text-anchor="end" fill="#222" stroke="#222" stroke-width="0.18" transform="translate(456.0 514.14) scale(1 1.1)">1.5</text>
<line x1="457.0" y1="533.26" x2="460.0" y2="533.26" stroke="#686868" stroke-width="1"/>
<text x="0" y="0" font-size="8.3" text-anchor="end" fill="#222" stroke="#222" stroke-width="0.18" transform="translate(456.0 536.56) scale(1 1.1)">1.0</text>
<line x1="457.0" y1="555.6800000000001" x2="460.0" y2="555.6800000000001" stroke="#686868" stroke-width="1"/>
<text x="0" y="0" font-size="8.3" text-anchor="end" fill="#222" stroke="#222" stroke-width="0.18" transform="translate(456.0 558.98) scale(1 1.1)">0.5</text>
<line x1="457.0" y1="578.1" x2="460.0" y2="578.1" stroke="#686868" stroke-width="1"/>
<text x="0" y="0" font-size="8.3" text-anchor="end" fill="#222" stroke="#222" stroke-width="0.18" transform="translate(456.0 581.4) scale(1 1.1)">0.0</text>
<line x1="457.0" y1="578.1" x2="628.9" y2="578.1" stroke="#686868" stroke-width="1.4"/>
<line x1="474.2" y1="578.1" x2="474.2" y2="581.1" stroke="#686868" stroke-width="1"/>
<text x="0" y="0" font-size="8.3" text-anchor="middle" fill="#222" stroke="#222" stroke-width="0.18" transform="translate(472.7 590.9) scale(1 1.1)">Before CP</text>
<line x1="502.2" y1="578.1" x2="502.2" y2="581.1" stroke="#686868" stroke-width="1"/>
<text x="0" y="0" font-size="8.3" text-anchor="middle" fill="#222" stroke="#222" stroke-width="0.18" transform="translate(502.2 590.9) scale(1 1.1)">1</text>
<line x1="530.4" y1="578.1" x2="530.4" y2="581.1" stroke="#686868" stroke-width="1"/>
<text x="0" y="0" font-size="8.3" text-anchor="middle" fill="#222" stroke="#222" stroke-width="0.18" transform="translate(530.4 590.9) scale(1 1.1)">2</text>
<line x1="558.4" y1="578.1" x2="558.4" y2="581.1" stroke="#686868" stroke-width="1"/>
<text x="0" y="0" font-size="8.3" text-anchor="middle" fill="#222" stroke="#222" stroke-width="0.18" transform="translate(558.4 590.9) scale(1 1.1)">3</text>
<line x1="586.6" y1="578.1" x2="586.6" y2="581.1" stroke="#686868" stroke-width="1"/>
<text x="0" y="0" font-size="8.3" text-anchor="middle" fill="#222" stroke="#222" stroke-width="0.18" transform="translate(586.6 590.9) scale(1 1.1)">4</text>
<line x1="614.5" y1="578.1" x2="614.5" y2="581.1" stroke="#686868" stroke-width="1"/>
<text x="0" y="0" font-size="8.3" text-anchor="middle" fill="#222" stroke="#222" stroke-width="0.18" transform="translate(614.5 590.9) scale(1 1.1)">5</text>
<text x="456.4" y="453" font-size="11.85" text-anchor="middle" fill="#222" stroke="#222" stroke-width="0.3">g</text>
<text x="494" y="453.2" font-size="11.85" text-anchor="start" fill="#222" stroke="#222" stroke-width="0.3">lymphocyte count</text>
<text x="0" y="0" font-size="11.85" text-anchor="middle" fill="#222" stroke="#222" stroke-width="0.3" transform="translate(437.5 519.6) rotate(-90) scale(1 1.0)">10<tspan font-size="8.3" dy="-4.3">9</tspan><tspan dy="4.3">/L</tspan></text>
<text x="558.3" y="606.6" font-size="11.8" text-anchor="middle" fill="#24253e" stroke="#24253e" stroke-width="0.3">Days post-transfusion</text>
<polyline points="474.2,572.1 502.2,563.4 530.4,575.2 558.4,573.2 586.6,559.7 614.5,560.6" fill="none" stroke="#1c2b6e" stroke-width="1" stroke-linejoin="round"/>
<circle cx="474.2" cy="572.1" r="1.6" fill="#1c2b6e"/>
<circle cx="502.2" cy="563.4" r="1.6" fill="#1c2b6e"/>
<circle cx="530.4" cy="575.2" r="1.6" fill="#1c2b6e"/>
<circle cx="558.4" cy="573.2" r="1.6" fill="#1c2b6e"/>
<circle cx="586.6" cy="559.7" r="1.6" fill="#1c2b6e"/>
<circle cx="614.5" cy="560.6" r="1.6" fill="#1c2b6e"/>
<polyline points="474.2,571.1 502.2,566.0 530.4,565.4 558.4,565.4 586.6,564.5" fill="none" stroke="#f58220" stroke-width="1" stroke-linejoin="round"/>
<circle cx="474.2" cy="571.1" r="1.6" fill="#f58220"/>
<circle cx="502.2" cy="566.0" r="1.6" fill="#f58220"/>
<circle cx="530.4" cy="565.4" r="1.6" fill="#f58220"/>
<circle cx="558.4" cy="565.4" r="1.6" fill="#f58220"/>
<circle cx="586.6" cy="564.5" r="1.6" fill="#f58220"/>
<polyline points="474.2,565.0 502.2,572.6 530.4,571.1 558.4,542.5 586.6,543.6 614.5,541.4" fill="none" stroke="#8b5e2e" stroke-width="1" stroke-linejoin="round"/>
<circle cx="474.2" cy="565.0" r="1.6" fill="#8b5e2e"/>
<circle cx="502.2" cy="572.6" r="1.6" fill="#8b5e2e"/>
<circle cx="530.4" cy="571.1" r="1.6" fill="#8b5e2e"/>
<circle cx="558.4" cy="542.5" r="1.6" fill="#8b5e2e"/>
<circle cx="586.6" cy="543.6" r="1.6" fill="#8b5e2e"/>
<circle cx="614.5" cy="541.4" r="1.6" fill="#8b5e2e"/>
<polyline points="474.2,554.4 502.2,544.3 530.4,546.4 558.4,545.4 586.6,507.4" fill="none" stroke="#000000" stroke-width="1" stroke-linejoin="round"/>
<circle cx="474.2" cy="554.4" r="1.6" fill="#000000"/>
<circle cx="502.2" cy="544.3" r="1.6" fill="#000000"/>
<circle cx="530.4" cy="546.4" r="1.6" fill="#000000"/>
<circle cx="558.4" cy="545.4" r="1.6" fill="#000000"/>
<circle cx="586.6" cy="507.4" r="1.6" fill="#000000"/>
<polyline points="474.2,563.8 502.2,539.4 530.4,541.9 558.4,552.1 586.6,533.2 614.5,539.6" fill="none" stroke="#8e44ad" stroke-width="1" stroke-linejoin="round"/>
<circle cx="474.2" cy="563.8" r="1.6" fill="#8e44ad"/>
<circle cx="502.2" cy="539.4" r="1.6" fill="#8e44ad"/>
<circle cx="530.4" cy="541.9" r="1.6" fill="#8e44ad"/>
<circle cx="558.4" cy="552.1" r="1.6" fill="#8e44ad"/>
<circle cx="586.6" cy="533.2" r="1.6" fill="#8e44ad"/>
<circle cx="614.5" cy="539.6" r="1.6" fill="#8e44ad"/>
<polyline points="474.2,522.0 502.2,546.0 530.4,525.5 558.4,514.7 586.6,487.5 614.5,515.8" fill="none" stroke="#2eb04a" stroke-width="1" stroke-linejoin="round"/>
<circle cx="474.2" cy="522.0" r="1.6" fill="#2eb04a"/>
<circle cx="502.2" cy="546.0" r="1.6" fill="#2eb04a"/>
<circle cx="530.4" cy="525.5" r="1.6" fill="#2eb04a"/>
<circle cx="558.4" cy="514.7" r="1.6" fill="#2eb04a"/>
<circle cx="586.6" cy="487.5" r="1.6" fill="#2eb04a"/>
<circle cx="614.5" cy="515.8" r="1.6" fill="#2eb04a"/>
<polyline points="474.2,505.0 502.2,518.5 530.4,516.2 558.4,513.2 586.6,514.0 614.5,520.3" fill="none" stroke="#e8202a" stroke-width="1" stroke-linejoin="round"/>
<circle cx="474.2" cy="505.0" r="1.6" fill="#e8202a"/>
<circle cx="502.2" cy="518.5" r="1.6" fill="#e8202a"/>
<circle cx="530.4" cy="516.2" r="1.6" fill="#e8202a"/>
<circle cx="558.4" cy="513.2" r="1.6" fill="#e8202a"/>
<circle cx="586.6" cy="514.0" r="1.6" fill="#e8202a"/>
<circle cx="614.5" cy="520.3" r="1.6" fill="#e8202a"/>
<polyline points="474.2,497.9 502.2,500.1 530.4,527.1 558.4,528.0 586.6,520.3 614.5,518.1" fill="none" stroke="#2a5cb0" stroke-width="1" stroke-linejoin="round"/>
<circle cx="474.2" cy="497.9" r="1.6" fill="#2a5cb0"/>
<circle cx="502.2" cy="500.1" r="1.6" fill="#2a5cb0"/>
<circle cx="530.4" cy="527.1" r="1.6" fill="#2a5cb0"/>
<circle cx="558.4" cy="528.0" r="1.6" fill="#2a5cb0"/>
<circle cx="586.6" cy="520.3" r="1.6" fill="#2a5cb0"/>
<circle cx="614.5" cy="518.1" r="1.6" fill="#2a5cb0"/>
<line x1="634.1" y1="552.6" x2="646.2" y2="552.6" stroke="#2a5cb0" stroke-width="0.9"/>
<circle cx="640.2" cy="552.6" r="1.4" fill="#2a5cb0"/>
<text x="0" y="0" font-size="7.9" text-anchor="start" fill="#333" stroke="#333" stroke-width="0.18" transform="translate(653.0 555.9) scale(1 1.1)">Patient 1</text>
<line x1="634.1" y1="567.8" x2="646.2" y2="567.8" stroke="#e8202a" stroke-width="0.9"/>
<circle cx="640.2" cy="567.8" r="1.4" fill="#e8202a"/>
<text x="0" y="0" font-size="7.9" text-anchor="start" fill="#333" stroke="#333" stroke-width="0.18" transform="translate(653.0 571.0999999999999) scale(1 1.1)">Patient 2</text>
<line x1="634.1" y1="582.9" x2="646.2" y2="582.9" stroke="#2eb04a" stroke-width="0.9"/>
<circle cx="640.2" cy="582.9" r="1.4" fill="#2eb04a"/>
<text x="0" y="0" font-size="7.9" text-anchor="start" fill="#333" stroke="#333" stroke-width="0.18" transform="translate(653.0 586.1999999999999) scale(1 1.1)">Patient 3</text>
<line x1="634.1" y1="598.2" x2="646.2" y2="598.2" stroke="#8e44ad" stroke-width="0.9"/>
<circle cx="640.2" cy="598.2" r="1.4" fill="#8e44ad"/>
<text x="0" y="0" font-size="7.9" text-anchor="start" fill="#333" stroke="#333" stroke-width="0.18" transform="translate(653.0 601.5) scale(1 1.1)">Patient 4</text>
<line x1="634.1" y1="613.3" x2="646.2" y2="613.3" stroke="#f58220" stroke-width="0.9"/>
<circle cx="640.2" cy="613.3" r="1.4" fill="#f58220"/>
<text x="0" y="0" font-size="7.9" text-anchor="start" fill="#333" stroke="#333" stroke-width="0.18" transform="translate(653.0 616.5999999999999) scale(1 1.1)">Patient 5</text>
<line x1="634.1" y1="628.4" x2="646.2" y2="628.4" stroke="#000000" stroke-width="0.9"/>
<circle cx="640.2" cy="628.4" r="1.4" fill="#000000"/>
<text x="0" y="0" font-size="7.9" text-anchor="start" fill="#333" stroke="#333" stroke-width="0.18" transform="translate(653.0 631.6999999999999) scale(1 1.1)">Patient 6</text>
<line x1="634.1" y1="643.5" x2="646.2" y2="643.5" stroke="#8b5e2e" stroke-width="0.9"/>
<circle cx="640.2" cy="643.5" r="1.4" fill="#8b5e2e"/>
<text x="0" y="0" font-size="7.9" text-anchor="start" fill="#333" stroke="#333" stroke-width="0.18" transform="translate(653.0 646.8) scale(1 1.1)">Patient 7</text>
<line x1="634.1" y1="658.8" x2="646.2" y2="658.8" stroke="#1c2b6e" stroke-width="0.9"/>
<circle cx="640.2" cy="658.8" r="1.4" fill="#1c2b6e"/>
<text x="0" y="0" font-size="7.9" text-anchor="start" fill="#333" stroke="#333" stroke-width="0.18" transform="translate(653.0 662.0999999999999) scale(1 1.1)">Patient 8</text>
<line x1="34.7" y1="647.7" x2="34.7" y2="760" stroke="#686868" stroke-width="1.4"/>
<line x1="31.700000000000003" y1="647.7" x2="34.7" y2="647.7" stroke="#686868" stroke-width="1"/>
<text x="0" y="0" font-size="8.3" text-anchor="end" fill="#222" stroke="#222" stroke-width="0.18" transform="translate(30.700000000000003 651.0) scale(1 1.1)">250</text>
<line x1="31.700000000000003" y1="670.16" x2="34.7" y2="670.16" stroke="#686868" stroke-width="1"/>
<text x="0" y="0" font-size="8.3" text-anchor="end" fill="#222" stroke="#222" stroke-width="0.18" transform="translate(30.700000000000003 673.4599999999999) scale(1 1.1)">200</text>
<line x1="31.700000000000003" y1="692.62" x2="34.7" y2="692.62" stroke="#686868" stroke-width="1"/>
<text x="0" y="0" font-size="8.3" text-anchor="end" fill="#222" stroke="#222" stroke-width="0.18" transform="translate(30.700000000000003 695.92) scale(1 1.1)">150</text>
<line x1="31.700000000000003" y1="715.08" x2="34.7" y2="715.08" stroke="#686868" stroke-width="1"/>
<text x="0" y="0" font-size="8.3" text-anchor="end" fill="#222" stroke="#222" stroke-width="0.18" transform="translate(30.700000000000003 718.38) scale(1 1.1)">100</text>
<line x1="31.700000000000003" y1="737.54" x2="34.7" y2="737.54" stroke="#686868" stroke-width="1"/>
<text x="0" y="0" font-size="8.3" text-anchor="end" fill="#222" stroke="#222" stroke-width="0.18" transform="translate(30.700000000000003 740.8399999999999) scale(1 1.1)">50</text>
<line x1="31.700000000000003" y1="760.0" x2="34.7" y2="760.0" stroke="#686868" stroke-width="1"/>
<text x="0" y="0" font-size="8.3" text-anchor="end" fill="#222" stroke="#222" stroke-width="0.18" transform="translate(30.700000000000003 763.3) scale(1 1.1)">0</text>
<line x1="31.700000000000003" y1="760" x2="203.5" y2="760" stroke="#686868" stroke-width="1.4"/>
<line x1="48.7" y1="760" x2="48.7" y2="763" stroke="#686868" stroke-width="1"/>
<text x="0" y="0" font-size="8.3" text-anchor="middle" fill="#222" stroke="#222" stroke-width="0.18" transform="translate(47.2 772.6999999999999) scale(1 1.1)">Before CP</text>
<line x1="76.8" y1="760" x2="76.8" y2="763" stroke="#686868" stroke-width="1"/>
<text x="0" y="0" font-size="8.3" text-anchor="middle" fill="#222" stroke="#222" stroke-width="0.18" transform="translate(76.8 772.6999999999999) scale(1 1.1)">1</text>
<line x1="104.9" y1="760" x2="104.9" y2="763" stroke="#686868" stroke-width="1"/>
<text x="0" y="0" font-size="8.3" text-anchor="middle" fill="#222" stroke="#222" stroke-width="0.18" transform="translate(104.9 772.6999999999999) scale(1 1.1)">2</text>
<line x1="133.2" y1="760" x2="133.2" y2="763" stroke="#686868" stroke-width="1"/>
<text x="0" y="0" font-size="8.3" text-anchor="middle" fill="#222" stroke="#222" stroke-width="0.18" transform="translate(133.2 772.6999999999999) scale(1 1.1)">3</text>
<line x1="161.2" y1="760" x2="161.2" y2="763" stroke="#686868" stroke-width="1"/>
<text x="0" y="0" font-size="8.3" text-anchor="middle" fill="#222" stroke="#222" stroke-width="0.18" transform="translate(161.2 772.6999999999999) scale(1 1.1)">4</text>
<line x1="189.3" y1="760" x2="189.3" y2="763" stroke="#686868" stroke-width="1"/>
<text x="0" y="0" font-size="8.3" text-anchor="middle" fill="#222" stroke="#222" stroke-width="0.18" transform="translate(189.3 772.6999999999999) scale(1 1.1)">5</text>
<text x="31.1" y="636.3" font-size="11.85" text-anchor="middle" fill="#222" stroke="#222" stroke-width="0.3">h</text>
<text x="104.2" y="637.8" font-size="11.85" text-anchor="start" fill="#222" stroke="#222" stroke-width="0.3">CRP</text>
<text x="0" y="0" font-size="11.85" text-anchor="middle" fill="#222" stroke="#222" stroke-width="0.3" transform="translate(10.2 704.3) rotate(-90) scale(1 1.0)">mg/L</text>
<text x="130.4" y="789.6" font-size="11.8" text-anchor="middle" fill="#24253e" stroke="#24253e" stroke-width="0.3">Days post-transfusion</text>
<polyline points="48.7,756.3 76.8,756.6 104.9,755.1 133.2,757.4 161.2,757.6 189.3,758.0" fill="none" stroke="#2eb04a" stroke-width="1" stroke-linejoin="round"/>
<circle cx="48.7" cy="756.3" r="1.6" fill="#2eb04a"/>
<circle cx="76.8" cy="756.6" r="1.6" fill="#2eb04a"/>
<circle cx="104.9" cy="755.1" r="1.6" fill="#2eb04a"/>
<circle cx="133.2" cy="757.4" r="1.6" fill="#2eb04a"/>
<circle cx="161.2" cy="757.6" r="1.6" fill="#2eb04a"/>
<circle cx="189.3" cy="758.0" r="1.6" fill="#2eb04a"/>
<polyline points="48.7,738.7 76.8,754.6 104.9,728.3 133.2,741.5 161.2,756.3" fill="none" stroke="#f58220" stroke-width="1" stroke-linejoin="round"/>
<circle cx="48.7" cy="738.7" r="1.6" fill="#f58220"/>
<circle cx="76.8" cy="754.6" r="1.6" fill="#f58220"/>
<circle cx="104.9" cy="728.3" r="1.6" fill="#f58220"/>
<circle cx="161.2" cy="756.3" r="1.6" fill="#f58220"/>
<polyline points="48.7,754.6 76.8,750.8 104.9,741.2 133.2,740.1 161.2,742.0 189.3,741.2" fill="none" stroke="#2a5cb0" stroke-width="1" stroke-linejoin="round"/>
<circle cx="48.7" cy="754.6" r="1.6" fill="#2a5cb0"/>
<circle cx="76.8" cy="750.8" r="1.6" fill="#2a5cb0"/>
<circle cx="104.9" cy="741.2" r="1.6" fill="#2a5cb0"/>
<circle cx="133.2" cy="740.1" r="1.6" fill="#2a5cb0"/>
<circle cx="161.2" cy="742.0" r="1.6" fill="#2a5cb0"/>
<circle cx="189.3" cy="741.2" r="1.6" fill="#2a5cb0"/>
<polyline points="48.7,756.6 76.8,754.6 104.9,756.5 133.2,757.4 161.2,757.6 189.3,758.0" fill="none" stroke="#e8202a" stroke-width="1" stroke-linejoin="round"/>
<circle cx="48.7" cy="756.6" r="1.6" fill="#e8202a"/>
<circle cx="76.8" cy="754.6" r="1.6" fill="#e8202a"/>
<circle cx="104.9" cy="756.5" r="1.6" fill="#e8202a"/>
<circle cx="133.2" cy="757.4" r="1.6" fill="#e8202a"/>
<circle cx="161.2" cy="757.6" r="1.6" fill="#e8202a"/>
<circle cx="189.3" cy="758.0" r="1.6" fill="#e8202a"/>
<polyline points="48.7,654.9 76.8,723.1 104.9,732.0 133.2,702.2 161.2,709.2 189.3,733.9" fill="none" stroke="#8e44ad" stroke-width="1" stroke-linejoin="round"/>
<circle cx="48.7" cy="654.9" r="1.6" fill="#8e44ad"/>
<circle cx="76.8" cy="723.1" r="1.6" fill="#8e44ad"/>
<circle cx="104.9" cy="732.0" r="1.6" fill="#8e44ad"/>
<circle cx="133.2" cy="702.2" r="1.6" fill="#8e44ad"/>
<circle cx="161.2" cy="709.2" r="1.6" fill="#8e44ad"/>
<circle cx="189.3" cy="733.9" r="1.6" fill="#8e44ad"/>
<line x1="242.7" y1="650.7" x2="242.7" y2="762.9" stroke="#686868" stroke-width="1.4"/>
<line x1="239.7" y1="650.6999999999999" x2="242.7" y2="650.6999999999999" stroke="#686868" stroke-width="1"/>
<text x="0" y="0" font-size="8.3" text-anchor="end" fill="#222" stroke="#222" stroke-width="0.18" transform="translate(238.7 653.9999999999999) scale(1 1.1)">0.5</text>
<line x1="239.7" y1="673.14" x2="242.7" y2="673.14" stroke="#686868" stroke-width="1"/>
<text x="0" y="0" font-size="8.3" text-anchor="end" fill="#222" stroke="#222" stroke-width="0.18" transform="translate(238.7 676.4399999999999) scale(1 1.1)">0.4</text>
<line x1="239.7" y1="695.5799999999999" x2="242.7" y2="695.5799999999999" stroke="#686868" stroke-width="1"/>
<text x="0" y="0" font-size="8.3" text-anchor="end" fill="#222" stroke="#222" stroke-width="0.18" transform="translate(238.7 698.8799999999999) scale(1 1.1)">0.3</text>
<line x1="239.7" y1="718.02" x2="242.7" y2="718.02" stroke="#686868" stroke-width="1"/>
<text x="0" y="0" font-size="8.3" text-anchor="end" fill="#222" stroke="#222" stroke-width="0.18" transform="translate(238.7 721.3199999999999) scale(1 1.1)">0.2</text>
<line x1="239.7" y1="740.4599999999999" x2="242.7" y2="740.4599999999999" stroke="#686868" stroke-width="1"/>
<text x="0" y="0" font-size="8.3" text-anchor="end" fill="#222" stroke="#222" stroke-width="0.18" transform="translate(238.7 743.7599999999999) scale(1 1.1)">0.1</text>
<line x1="239.7" y1="762.9" x2="242.7" y2="762.9" stroke="#686868" stroke-width="1"/>
<text x="0" y="0" font-size="8.3" text-anchor="end" fill="#222" stroke="#222" stroke-width="0.18" transform="translate(238.7 766.1999999999999) scale(1 1.1)">0.0</text>
<line x1="239.7" y1="762.9" x2="411.6" y2="762.9" stroke="#686868" stroke-width="1.4"/>
<line x1="257.0" y1="762.9" x2="257.0" y2="765.9" stroke="#686868" stroke-width="1"/>
<text x="0" y="0" font-size="8.3" text-anchor="middle" fill="#222" stroke="#222" stroke-width="0.18" transform="translate(255.5 775.4) scale(1 1.1)">Before CP</text>
<line x1="285.2" y1="762.9" x2="285.2" y2="765.9" stroke="#686868" stroke-width="1"/>
<text x="0" y="0" font-size="8.3" text-anchor="middle" fill="#222" stroke="#222" stroke-width="0.18" transform="translate(285.2 775.4) scale(1 1.1)">1</text>
<line x1="313.3" y1="762.9" x2="313.3" y2="765.9" stroke="#686868" stroke-width="1"/>
<text x="0" y="0" font-size="8.3" text-anchor="middle" fill="#222" stroke="#222" stroke-width="0.18" transform="translate(313.3 775.4) scale(1 1.1)">2</text>
<line x1="341.4" y1="762.9" x2="341.4" y2="765.9" stroke="#686868" stroke-width="1"/>
<text x="0" y="0" font-size="8.3" text-anchor="middle" fill="#222" stroke="#222" stroke-width="0.18" transform="translate(341.4 775.4) scale(1 1.1)">3</text>
<line x1="369.5" y1="762.9" x2="369.5" y2="765.9" stroke="#686868" stroke-width="1"/>
<text x="0" y="0" font-size="8.3" text-anchor="middle" fill="#222" stroke="#222" stroke-width="0.18" transform="translate(369.5 775.4) scale(1 1.1)">4</text>
<line x1="397.5" y1="762.9" x2="397.5" y2="765.9" stroke="#686868" stroke-width="1"/>
<text x="0" y="0" font-size="8.3" text-anchor="middle" fill="#222" stroke="#222" stroke-width="0.18" transform="translate(397.5 775.4) scale(1 1.1)">5</text>
<text x="238.3" y="635" font-size="11.85" text-anchor="middle" fill="#222" stroke="#222" stroke-width="0.3">i</text>
<text x="292.6" y="635.2" font-size="11.85" text-anchor="start" fill="#222" stroke="#222" stroke-width="0.3">Procalcitonin</text>
<text x="0" y="0" font-size="11.85" text-anchor="middle" fill="#222" stroke="#222" stroke-width="0.3" transform="translate(220.5 701) rotate(-90) scale(1 1.0)">ng/mL</text>
<text x="340.8" y="791.3" font-size="11.8" text-anchor="middle" fill="#24253e" stroke="#24253e" stroke-width="0.3">Days post-transfusion</text>
<polyline points="257.0,748.2 285.2,751.5 313.3,751.5 341.4,751.5 369.5,750.8" fill="none" stroke="#8b5e2e" stroke-width="1" stroke-linejoin="round"/>
<circle cx="257.0" cy="748.2" r="1.6" fill="#8b5e2e"/>
<circle cx="285.2" cy="751.5" r="1.6" fill="#8b5e2e"/>
<circle cx="313.3" cy="751.5" r="1.6" fill="#8b5e2e"/>
<circle cx="341.4" cy="751.5" r="1.6" fill="#8b5e2e"/>
<circle cx="369.5" cy="750.8" r="1.6" fill="#8b5e2e"/>
<polyline points="257.0,751.0 285.2,756.3" fill="none" stroke="#000000" stroke-width="1" stroke-linejoin="round"/>
<circle cx="257.0" cy="751.0" r="1.6" fill="#000000"/>
<circle cx="285.2" cy="756.3" r="1.6" fill="#000000"/>
<polyline points="257.0,758.5 285.2,714.2 313.3,743.1 341.4,757.4 369.5,758.5" fill="none" stroke="#2eb04a" stroke-width="1" stroke-linejoin="round"/>
<circle cx="257.0" cy="758.5" r="1.6" fill="#2eb04a"/>
<circle cx="285.2" cy="714.2" r="1.6" fill="#2eb04a"/>
<circle cx="313.3" cy="743.1" r="1.6" fill="#2eb04a"/>
<circle cx="341.4" cy="757.4" r="1.6" fill="#2eb04a"/>
<circle cx="369.5" cy="758.5" r="1.6" fill="#2eb04a"/>
<polyline points="257.0,711.1 285.2,724.7 313.3,722.5" fill="none" stroke="#f58220" stroke-width="1" stroke-linejoin="round"/>
<circle cx="257.0" cy="711.1" r="1.6" fill="#f58220"/>
<circle cx="285.2" cy="724.7" r="1.6" fill="#f58220"/>
<circle cx="313.3" cy="722.5" r="1.6" fill="#f58220"/>
<polyline points="257.0,666.5 285.2,736.6 313.3,751.5 341.4,732.2 369.5,739.4 397.5,739.4" fill="none" stroke="#8e44ad" stroke-width="1" stroke-linejoin="round"/>
<circle cx="257.0" cy="666.5" r="1.6" fill="#8e44ad"/>
<circle cx="285.2" cy="736.6" r="1.6" fill="#8e44ad"/>
<circle cx="313.3" cy="751.5" r="1.6" fill="#8e44ad"/>
<circle cx="341.4" cy="732.2" r="1.6" fill="#8e44ad"/>
<circle cx="369.5" cy="739.4" r="1.6" fill="#8e44ad"/>
<circle cx="397.5" cy="739.4" r="1.6" fill="#8e44ad"/>
<polyline points="257.0,751.5 285.2,748.8 313.3,753.0 341.4,756.3 369.5,758.5 397.5,758.5" fill="none" stroke="#e8202a" stroke-width="1" stroke-linejoin="round"/>
<circle cx="257.0" cy="751.5" r="1.6" fill="#e8202a"/>
<circle cx="285.2" cy="748.8" r="1.6" fill="#e8202a"/>
<circle cx="313.3" cy="753.0" r="1.6" fill="#e8202a"/>
<circle cx="341.4" cy="756.3" r="1.6" fill="#e8202a"/>
<circle cx="369.5" cy="758.5" r="1.6" fill="#e8202a"/>
<circle cx="397.5" cy="758.5" r="1.6" fill="#e8202a"/>
<line x1="459.9" y1="651.3" x2="459.9" y2="763.5" stroke="#686868" stroke-width="1.4"/>
<line x1="456.9" y1="651.3" x2="459.9" y2="651.3" stroke="#686868" stroke-width="1"/>
<text x="0" y="0" font-size="8.3" text-anchor="end" fill="#222" stroke="#222" stroke-width="0.18" transform="translate(455.9 654.5999999999999) scale(1 1.1)">150</text>
<line x1="456.9" y1="688.7" x2="459.9" y2="688.7" stroke="#686868" stroke-width="1"/>
<text x="0" y="0" font-size="8.3" text-anchor="end" fill="#222" stroke="#222" stroke-width="0.18" transform="translate(455.9 692.0) scale(1 1.1)">100</text>
<line x1="456.9" y1="726.1" x2="459.9" y2="726.1" stroke="#686868" stroke-width="1"/>
<text x="0" y="0" font-size="8.3" text-anchor="end" fill="#222" stroke="#222" stroke-width="0.18" transform="translate(455.9 729.4) scale(1 1.1)">50</text>
<line x1="456.9" y1="763.5" x2="459.9" y2="763.5" stroke="#686868" stroke-width="1"/>
<text x="0" y="0" font-size="8.3" text-anchor="end" fill="#222" stroke="#222" stroke-width="0.18" transform="translate(455.9 766.8) scale(1 1.1)">0</text>
<line x1="456.9" y1="763.5" x2="628.9" y2="763.5" stroke="#686868" stroke-width="1.4"/>
<line x1="474" y1="763.5" x2="474" y2="766.5" stroke="#686868" stroke-width="1"/>
<text x="0" y="0" font-size="8.3" text-anchor="middle" fill="#222" stroke="#222" stroke-width="0.18" transform="translate(472.5 775.4) scale(1 1.1)">Before CP</text>
<line x1="502" y1="763.5" x2="502" y2="766.5" stroke="#686868" stroke-width="1"/>
<text x="0" y="0" font-size="8.3" text-anchor="middle" fill="#222" stroke="#222" stroke-width="0.18" transform="translate(502 775.4) scale(1 1.1)">1</text>
<line x1="530.1" y1="763.5" x2="530.1" y2="766.5" stroke="#686868" stroke-width="1"/>
<text x="0" y="0" font-size="8.3" text-anchor="middle" fill="#222" stroke="#222" stroke-width="0.18" transform="translate(530.1 775.4) scale(1 1.1)">2</text>
<line x1="558.3" y1="763.5" x2="558.3" y2="766.5" stroke="#686868" stroke-width="1"/>
<text x="0" y="0" font-size="8.3" text-anchor="middle" fill="#222" stroke="#222" stroke-width="0.18" transform="translate(558.3 775.4) scale(1 1.1)">3</text>
<line x1="586.4" y1="763.5" x2="586.4" y2="766.5" stroke="#686868" stroke-width="1"/>
<text x="0" y="0" font-size="8.3" text-anchor="middle" fill="#222" stroke="#222" stroke-width="0.18" transform="translate(586.4 775.4) scale(1 1.1)">4</text>
<line x1="614.7" y1="763.5" x2="614.7" y2="766.5" stroke="#686868" stroke-width="1"/>
<text x="0" y="0" font-size="8.3" text-anchor="middle" fill="#222" stroke="#222" stroke-width="0.18" transform="translate(614.7 775.4) scale(1 1.1)">5</text>
<text x="457.5" y="635" font-size="11.85" text-anchor="middle" fill="#222" stroke="#222" stroke-width="0.3">j</text>
<text x="534.3" y="635.2" font-size="11.85" text-anchor="start" fill="#222" stroke="#222" stroke-width="0.3">IL-6</text>
<text x="0" y="0" font-size="11.85" text-anchor="middle" fill="#222" stroke="#222" stroke-width="0.3" transform="translate(437.2 701) rotate(-90) scale(1 1.0)">pg/mL</text>
<text x="556.4" y="789.6" font-size="11.8" text-anchor="middle" fill="#24253e" stroke="#24253e" stroke-width="0.3">Days post-transfusion</text>
<polyline points="474.0,762.0 502.0,754.1 530.1,741.6 558.3,755.2" fill="none" stroke="#8b5e2e" stroke-width="1" stroke-linejoin="round"/>
<circle cx="474.0" cy="762.0" r="1.6" fill="#8b5e2e"/>
<circle cx="502.0" cy="754.1" r="1.6" fill="#8b5e2e"/>
<circle cx="530.1" cy="741.6" r="1.6" fill="#8b5e2e"/>
<circle cx="558.3" cy="755.2" r="1.6" fill="#8b5e2e"/>
<polyline points="474.0,760.2 502.0,756.3 530.1,754.1 558.3,760.2 586.4,759.8 614.7,758.5" fill="none" stroke="#2eb04a" stroke-width="1" stroke-linejoin="round"/>
<circle cx="474.0" cy="760.2" r="1.6" fill="#2eb04a"/>
<circle cx="502.0" cy="756.3" r="1.6" fill="#2eb04a"/>
<circle cx="530.1" cy="754.1" r="1.6" fill="#2eb04a"/>
<circle cx="558.3" cy="760.2" r="1.6" fill="#2eb04a"/>
<circle cx="586.4" cy="759.8" r="1.6" fill="#2eb04a"/>
<circle cx="614.7" cy="758.5" r="1.6" fill="#2eb04a"/>
<polyline points="474.0,759.6 502.0,758.7 530.1,759.6 558.3,760.2 586.4,760.7 614.7,759.6" fill="none" stroke="#e8202a" stroke-width="1" stroke-linejoin="round"/>
<circle cx="474.0" cy="759.6" r="1.6" fill="#e8202a"/>
<circle cx="502.0" cy="758.7" r="1.6" fill="#e8202a"/>
<circle cx="530.1" cy="759.6" r="1.6" fill="#e8202a"/>
<circle cx="558.3" cy="760.2" r="1.6" fill="#e8202a"/>
<circle cx="586.4" cy="760.7" r="1.6" fill="#e8202a"/>
<circle cx="614.7" cy="759.6" r="1.6" fill="#e8202a"/>
<polyline points="474.0,721.4 502.0,748.2 530.1,760.7" fill="none" stroke="#f58220" stroke-width="1" stroke-linejoin="round"/>
<circle cx="474.0" cy="721.4" r="1.6" fill="#f58220"/>
<circle cx="502.0" cy="748.2" r="1.6" fill="#f58220"/>
<circle cx="530.1" cy="760.7" r="1.6" fill="#f58220"/>
<polyline points="474.0,749.3 502.0,763.5" fill="none" stroke="#000000" stroke-width="1" stroke-linejoin="round"/>
<circle cx="474.0" cy="749.3" r="1.6" fill="#000000"/>
<circle cx="502.0" cy="763.5" r="1.6" fill="#000000"/>
<polyline points="474.0,762.9 502.0,763.5 530.1,739.0 586.4,759.1 614.7,759.1" fill="none" stroke="#2a5cb0" stroke-width="1" stroke-linejoin="round"/>
<circle cx="474.0" cy="762.9" r="1.6" fill="#2a5cb0"/>
<circle cx="502.0" cy="763.5" r="1.6" fill="#2a5cb0"/>
<circle cx="530.1" cy="739.0" r="1.6" fill="#2a5cb0"/>
<circle cx="586.4" cy="759.1" r="1.6" fill="#2a5cb0"/>
<circle cx="614.7" cy="759.1" r="1.6" fill="#2a5cb0"/>
<polyline points="474.0,741.2 502.0,754.1 530.1,758.5 558.3,743.1 586.4,732.4 614.7,741.6" fill="none" stroke="#1c2b6e" stroke-width="1" stroke-linejoin="round"/>
<circle cx="474.0" cy="741.2" r="1.6" fill="#1c2b6e"/>
<circle cx="502.0" cy="754.1" r="1.6" fill="#1c2b6e"/>
<circle cx="530.1" cy="758.5" r="1.6" fill="#1c2b6e"/>
<circle cx="558.3" cy="743.1" r="1.6" fill="#1c2b6e"/>
<circle cx="586.4" cy="732.4" r="1.6" fill="#1c2b6e"/>
<circle cx="614.7" cy="741.6" r="1.6" fill="#1c2b6e"/>
<polyline points="474.0,755.8 502.0,755.2 530.1,709.2 558.3,682.4 586.4,715.7 614.7,732.4" fill="none" stroke="#8e44ad" stroke-width="1" stroke-linejoin="round"/>
<circle cx="474.0" cy="755.8" r="1.6" fill="#8e44ad"/>
<circle cx="502.0" cy="755.2" r="1.6" fill="#8e44ad"/>
<circle cx="530.1" cy="709.2" r="1.6" fill="#8e44ad"/>
<circle cx="558.3" cy="682.4" r="1.6" fill="#8e44ad"/>
<circle cx="586.4" cy="715.7" r="1.6" fill="#8e44ad"/>
<circle cx="614.7" cy="732.4" r="1.6" fill="#8e44ad"/>
</svg>
</body></html>
